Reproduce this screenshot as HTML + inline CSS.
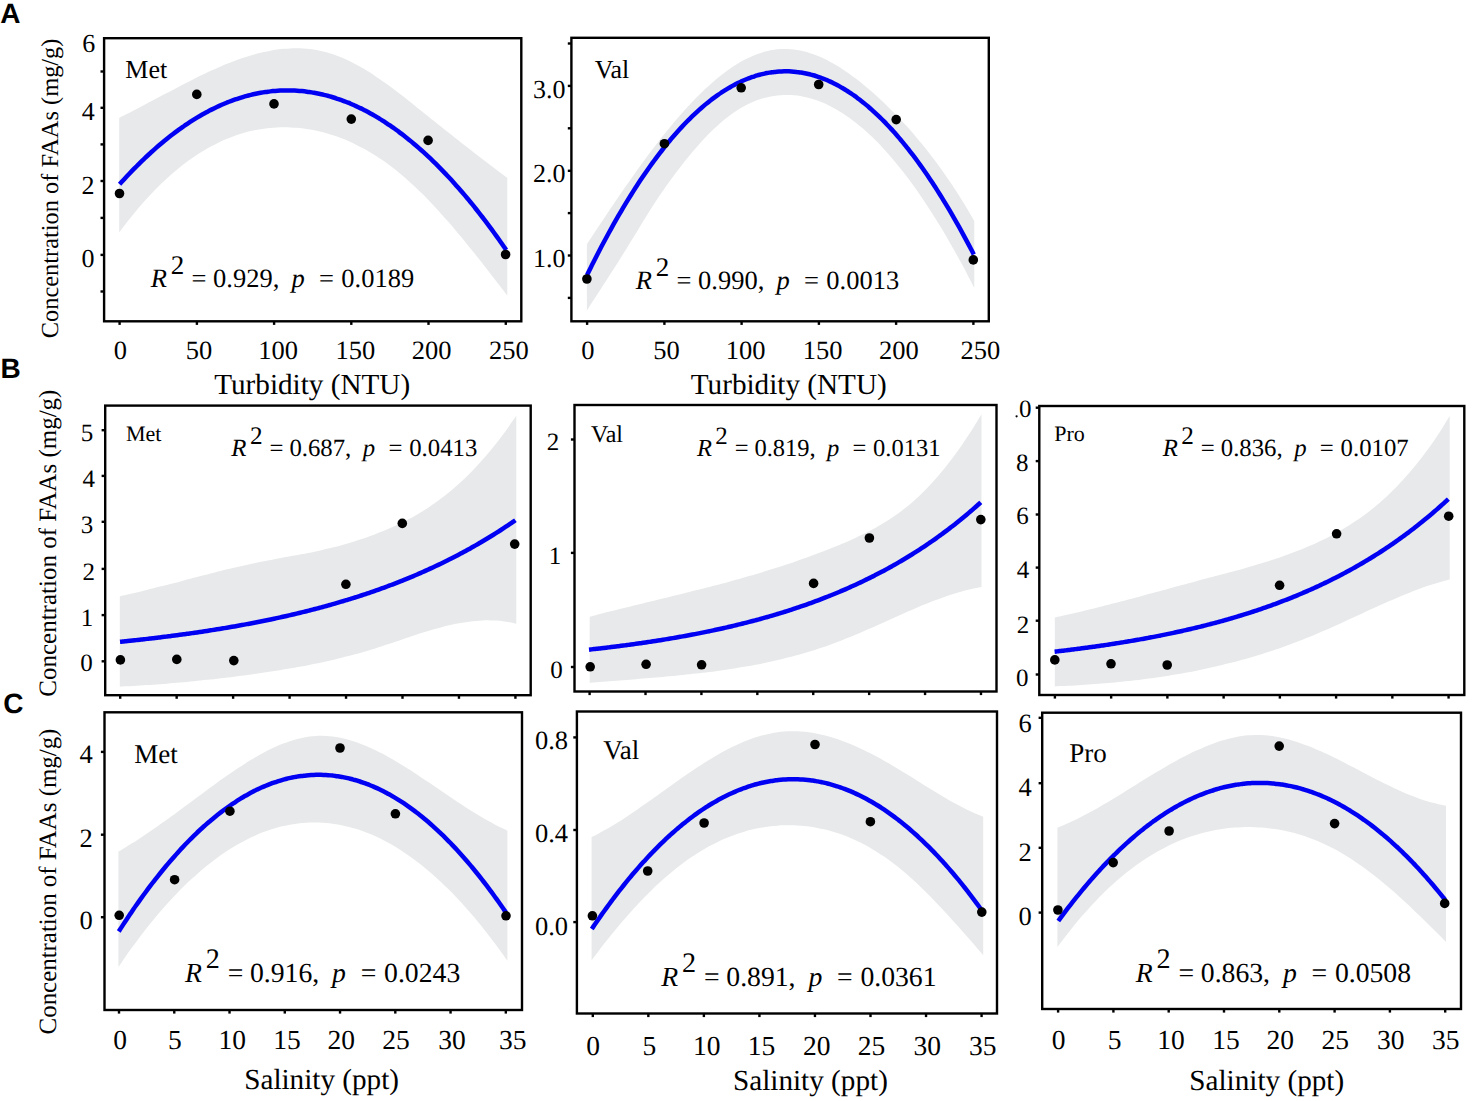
<!DOCTYPE html>
<html><head><meta charset="utf-8"><title>Figure</title>
<style>html,body{margin:0;padding:0;background:#fff;width:1473px;height:1101px;overflow:hidden}svg{display:block} text{text-rendering:geometricPrecision}</style>
</head><body>
<svg width="1473" height="1101" viewBox="0 0 1473 1101">
<rect x="0" y="0" width="1473" height="1101" fill="#fff"/>
<path d="M119.20,117.65 C120.30,117.12 123.59,115.53 125.78,114.44 C127.97,113.36 130.16,112.25 132.36,111.14 C134.55,110.03 136.74,108.90 138.93,107.77 C141.13,106.63 143.32,105.49 145.51,104.33 C147.70,103.18 149.90,102.02 152.09,100.86 C154.28,99.70 156.48,98.54 158.67,97.37 C160.86,96.20 163.05,95.03 165.25,93.87 C167.44,92.70 169.63,91.54 171.82,90.38 C174.02,89.22 176.21,88.06 178.40,86.92 C180.59,85.77 182.79,84.63 184.98,83.50 C187.17,82.37 189.36,81.25 191.56,80.14 C193.75,79.03 195.94,77.94 198.14,76.86 C200.33,75.78 202.52,74.72 204.71,73.67 C206.91,72.63 209.10,71.60 211.29,70.59 C213.48,69.59 215.68,68.60 217.87,67.65 C220.06,66.69 222.25,65.75 224.45,64.84 C226.64,63.93 228.83,63.05 231.03,62.20 C233.22,61.34 235.41,60.52 237.60,59.73 C239.80,58.94 241.99,58.18 244.18,57.46 C246.37,56.73 248.57,56.04 250.76,55.39 C252.95,54.74 255.14,54.13 257.34,53.56 C259.53,52.99 261.72,52.46 263.92,51.97 C266.11,51.48 268.30,51.04 270.49,50.64 C272.69,50.24 274.88,49.89 277.07,49.59 C279.26,49.29 281.46,49.03 283.65,48.83 C285.84,48.63 288.03,48.48 290.23,48.39 C292.42,48.29 294.61,48.25 296.81,48.27 C299.00,48.29 301.19,48.36 303.38,48.49 C305.58,48.63 307.77,48.82 309.96,49.08 C312.15,49.34 314.35,49.66 316.54,50.05 C318.73,50.43 320.92,50.88 323.12,51.41 C325.31,51.93 327.50,52.52 329.69,53.18 C331.89,53.84 334.08,54.57 336.27,55.38 C338.47,56.18 340.66,57.06 342.85,58.00 C345.04,58.94 347.24,59.95 349.43,61.01 C351.62,62.08 353.81,63.21 356.01,64.39 C358.20,65.57 360.39,66.81 362.58,68.10 C364.78,69.39 366.97,70.73 369.16,72.11 C371.36,73.49 373.55,74.92 375.74,76.39 C377.93,77.85 380.13,79.36 382.32,80.90 C384.51,82.44 386.70,84.02 388.90,85.62 C391.09,87.22 393.28,88.86 395.47,90.51 C397.67,92.16 399.86,93.85 402.05,95.54 C404.25,97.24 406.44,98.96 408.63,100.69 C410.82,102.42 413.02,104.17 415.21,105.92 C417.40,107.67 419.59,109.43 421.79,111.19 C423.98,112.95 426.17,114.72 428.36,116.48 C430.56,118.24 432.75,120.00 434.94,121.76 C437.14,123.52 439.33,125.27 441.52,127.02 C443.71,128.77 445.91,130.52 448.10,132.27 C450.29,134.01 452.48,135.75 454.68,137.48 C456.87,139.22 459.06,140.95 461.25,142.67 C463.45,144.39 465.64,146.11 467.83,147.82 C470.02,149.54 472.22,151.24 474.41,152.94 C476.60,154.64 478.80,156.33 480.99,158.02 C483.18,159.70 485.37,161.38 487.57,163.05 C489.76,164.72 491.95,166.38 494.14,168.03 C496.34,169.68 498.53,171.33 500.72,172.96 C502.91,174.60 506.20,177.02 507.30,177.84 L507.30,295.75 C506.20,294.31 502.91,289.99 500.72,287.12 C498.53,284.25 496.34,281.38 494.14,278.53 C491.95,275.69 489.76,272.85 487.57,270.02 C485.37,267.20 483.18,264.39 480.99,261.61 C478.80,258.82 476.60,256.05 474.41,253.30 C472.22,250.55 470.02,247.83 467.83,245.13 C465.64,242.43 463.45,239.75 461.25,237.11 C459.06,234.46 456.87,231.85 454.68,229.26 C452.48,226.68 450.29,224.13 448.10,221.61 C445.91,219.10 443.71,216.61 441.52,214.17 C439.33,211.73 437.14,209.33 434.94,206.97 C432.75,204.61 430.56,202.30 428.36,200.03 C426.17,197.76 423.98,195.53 421.79,193.36 C419.59,191.18 417.40,189.05 415.21,186.98 C413.02,184.91 410.82,182.89 408.63,180.92 C406.44,178.96 404.25,177.05 402.05,175.20 C399.86,173.35 397.67,171.56 395.47,169.83 C393.28,168.09 391.09,166.42 388.90,164.80 C386.70,163.17 384.51,161.61 382.32,160.10 C380.13,158.59 377.93,157.14 375.74,155.75 C373.55,154.35 371.36,153.01 369.16,151.72 C366.97,150.43 364.78,149.19 362.58,148.01 C360.39,146.83 358.20,145.71 356.01,144.63 C353.81,143.56 351.62,142.54 349.43,141.57 C347.24,140.59 345.04,139.68 342.85,138.81 C340.66,137.94 338.47,137.13 336.27,136.36 C334.08,135.60 331.89,134.88 329.69,134.22 C327.50,133.55 325.31,132.94 323.12,132.37 C320.92,131.80 318.73,131.29 316.54,130.82 C314.35,130.35 312.15,129.92 309.96,129.55 C307.77,129.18 305.58,128.85 303.38,128.57 C301.19,128.29 299.00,128.05 296.81,127.87 C294.61,127.68 292.42,127.54 290.23,127.45 C288.03,127.35 285.84,127.31 283.65,127.31 C281.46,127.32 279.26,127.37 277.07,127.47 C274.88,127.57 272.69,127.72 270.49,127.92 C268.30,128.13 266.11,128.38 263.92,128.68 C261.72,128.98 259.53,129.34 257.34,129.74 C255.14,130.15 252.95,130.61 250.76,131.12 C248.57,131.63 246.37,132.20 244.18,132.82 C241.99,133.44 239.80,134.11 237.60,134.84 C235.41,135.56 233.22,136.35 231.03,137.18 C228.83,138.02 226.64,138.91 224.45,139.87 C222.25,140.82 220.06,141.82 217.87,142.89 C215.68,143.95 213.48,145.07 211.29,146.25 C209.10,147.43 206.91,148.67 204.71,149.97 C202.52,151.27 200.33,152.62 198.14,154.04 C195.94,155.46 193.75,156.93 191.56,158.47 C189.36,160.01 187.17,161.61 184.98,163.27 C182.79,164.93 180.59,166.66 178.40,168.44 C176.21,170.23 174.02,172.08 171.82,173.99 C169.63,175.90 167.44,177.88 165.25,179.92 C163.05,181.96 160.86,184.06 158.67,186.23 C156.48,188.40 154.28,190.64 152.09,192.94 C149.90,195.24 147.70,197.61 145.51,200.05 C143.32,202.49 141.13,204.99 138.93,207.56 C136.74,210.13 134.55,212.77 132.36,215.48 C130.16,218.19 127.97,220.96 125.78,223.81 C123.59,226.66 120.30,231.11 119.20,232.57 Z" fill="#e8e9ea"/>
<path d="M119.60,184.30 C120.01,183.85 121.22,182.49 122.03,181.60 C122.84,180.70 123.65,179.82 124.46,178.94 C125.27,178.06 126.08,177.18 126.89,176.31 C127.70,175.45 128.52,174.59 129.33,173.73 C130.14,172.88 130.95,172.03 131.76,171.19 C132.57,170.35 133.38,169.51 134.19,168.68 C135.00,167.86 135.81,167.03 136.62,166.22 C137.43,165.40 138.24,164.60 139.05,163.79 C139.86,162.99 140.67,162.20 141.48,161.41 C142.29,160.62 143.10,159.84 143.91,159.06 C144.72,158.29 145.54,157.52 146.35,156.75 C147.16,155.99 147.97,155.24 148.78,154.49 C149.59,153.74 150.40,152.99 151.21,152.26 C152.02,151.52 152.83,150.79 153.64,150.07 C154.45,149.35 155.26,148.63 156.07,147.92 C156.88,147.21 157.69,146.51 158.50,145.81 C159.31,145.11 160.12,144.42 160.93,143.74 C161.75,143.06 162.56,142.38 163.37,141.71 C164.18,141.04 164.99,140.37 165.80,139.72 C166.61,139.06 167.42,138.41 168.23,137.76 C169.04,137.12 169.85,136.48 170.66,135.85 C171.47,135.22 172.28,134.60 173.09,133.98 C173.90,133.36 174.71,132.75 175.52,132.14 C176.33,131.54 177.14,130.94 177.95,130.35 C178.77,129.76 179.58,129.17 180.39,128.60 C181.20,128.02 182.01,127.44 182.82,126.88 C183.63,126.31 184.44,125.76 185.25,125.20 C186.06,124.65 186.87,124.11 187.68,123.57 C188.49,123.03 189.30,122.49 190.11,121.97 C190.92,121.44 191.73,120.92 192.54,120.41 C193.35,119.90 194.16,119.39 194.97,118.89 C195.79,118.39 196.60,117.90 197.41,117.41 C198.22,116.93 199.03,116.45 199.84,115.97 C200.65,115.50 201.46,115.03 202.27,114.57 C203.08,114.11 203.89,113.66 204.70,113.21 C205.51,112.77 206.32,112.32 207.13,111.89 C207.94,111.46 208.75,111.03 209.56,110.61 C210.37,110.19 211.18,109.77 211.99,109.37 C212.81,108.96 213.62,108.56 214.43,108.16 C215.24,107.77 216.05,107.38 216.86,107.00 C217.67,106.62 218.48,106.24 219.29,105.87 C220.10,105.51 220.91,105.15 221.72,104.79 C222.53,104.44 223.34,104.09 224.15,103.74 C224.96,103.40 225.77,103.07 226.58,102.74 C227.39,102.41 228.20,102.09 229.02,101.77 C229.83,101.46 230.64,101.15 231.45,100.84 C232.26,100.54 233.07,100.25 233.88,99.96 C234.69,99.67 235.50,99.38 236.31,99.11 C237.12,98.83 237.93,98.56 238.74,98.30 C239.55,98.04 240.36,97.78 241.17,97.53 C241.98,97.28 242.79,97.04 243.60,96.80 C244.41,96.56 245.22,96.33 246.04,96.11 C246.85,95.89 247.66,95.67 248.47,95.46 C249.28,95.25 250.09,95.04 250.90,94.85 C251.71,94.65 252.52,94.46 253.33,94.27 C254.14,94.09 254.95,93.91 255.76,93.74 C256.57,93.57 257.38,93.41 258.19,93.25 C259.00,93.09 259.81,92.94 260.62,92.79 C261.43,92.65 262.24,92.51 263.06,92.38 C263.87,92.25 264.68,92.12 265.49,92.00 C266.30,91.88 267.11,91.77 267.92,91.67 C268.73,91.56 269.54,91.46 270.35,91.37 C271.16,91.28 271.97,91.19 272.78,91.11 C273.59,91.03 274.40,90.96 275.21,90.90 C276.02,90.83 276.83,90.77 277.64,90.72 C278.45,90.67 279.26,90.62 280.08,90.58 C280.89,90.54 281.70,90.51 282.51,90.48 C283.32,90.45 284.13,90.43 284.94,90.42 C285.75,90.41 286.56,90.40 287.37,90.40 C288.18,90.40 288.99,90.41 289.80,90.42 C290.61,90.43 291.42,90.45 292.23,90.48 C293.04,90.50 293.85,90.54 294.66,90.58 C295.47,90.61 296.29,90.66 297.10,90.71 C297.91,90.76 298.72,90.82 299.53,90.89 C300.34,90.95 301.15,91.03 301.96,91.11 C302.77,91.18 303.58,91.27 304.39,91.36 C305.20,91.45 306.01,91.55 306.82,91.66 C307.63,91.76 308.44,91.87 309.25,91.99 C310.06,92.11 310.87,92.23 311.68,92.36 C312.49,92.49 313.31,92.63 314.12,92.78 C314.93,92.92 315.74,93.07 316.55,93.23 C317.36,93.39 318.17,93.55 318.98,93.72 C319.79,93.89 320.60,94.07 321.41,94.25 C322.22,94.44 323.03,94.63 323.84,94.82 C324.65,95.02 325.46,95.22 326.27,95.43 C327.08,95.64 327.89,95.86 328.70,96.08 C329.51,96.31 330.33,96.54 331.14,96.77 C331.95,97.01 332.76,97.25 333.57,97.50 C334.38,97.75 335.19,98.01 336.00,98.27 C336.81,98.53 337.62,98.80 338.43,99.08 C339.24,99.35 340.05,99.64 340.86,99.92 C341.67,100.21 342.48,100.51 343.29,100.81 C344.10,101.11 344.91,101.42 345.72,101.74 C346.54,102.05 347.35,102.37 348.16,102.70 C348.97,103.03 349.78,103.36 350.59,103.71 C351.40,104.05 352.21,104.40 353.02,104.75 C353.83,105.10 354.64,105.47 355.45,105.83 C356.26,106.20 357.07,106.58 357.88,106.96 C358.69,107.34 359.50,107.72 360.31,108.12 C361.12,108.51 361.93,108.91 362.74,109.32 C363.56,109.73 364.37,110.14 365.18,110.56 C365.99,110.98 366.80,111.41 367.61,111.84 C368.42,112.28 369.23,112.72 370.04,113.16 C370.85,113.61 371.66,114.06 372.47,114.52 C373.28,114.98 374.09,115.45 374.90,115.92 C375.71,116.39 376.52,116.87 377.33,117.36 C378.14,117.84 378.95,118.34 379.76,118.84 C380.58,119.33 381.39,119.84 382.20,120.35 C383.01,120.87 383.82,121.38 384.63,121.91 C385.44,122.43 386.25,122.97 387.06,123.51 C387.87,124.04 388.68,124.59 389.49,125.14 C390.30,125.69 391.11,126.25 391.92,126.82 C392.73,127.38 393.54,127.95 394.35,128.53 C395.16,129.11 395.97,129.69 396.78,130.28 C397.60,130.87 398.41,131.47 399.22,132.08 C400.03,132.68 400.84,133.29 401.65,133.91 C402.46,134.53 403.27,135.15 404.08,135.78 C404.89,136.41 405.70,137.05 406.51,137.69 C407.32,138.34 408.13,138.99 408.94,139.64 C409.75,140.30 410.56,140.96 411.37,141.63 C412.18,142.30 412.99,142.98 413.81,143.66 C414.62,144.35 415.43,145.04 416.24,145.73 C417.05,146.43 417.86,147.13 418.67,147.84 C419.48,148.55 420.29,149.27 421.10,149.99 C421.91,150.71 422.72,151.44 423.53,152.18 C424.34,152.91 425.15,153.65 425.96,154.40 C426.77,155.15 427.58,155.91 428.39,156.67 C429.20,157.43 430.01,158.20 430.83,158.97 C431.64,159.75 432.45,160.53 433.26,161.32 C434.07,162.11 434.88,162.90 435.69,163.70 C436.50,164.50 437.31,165.31 438.12,166.13 C438.93,166.94 439.74,167.76 440.55,168.59 C441.36,169.42 442.17,170.25 442.98,171.09 C443.79,171.93 444.60,172.78 445.41,173.63 C446.22,174.49 447.03,175.35 447.85,176.22 C448.66,177.08 449.47,177.96 450.28,178.84 C451.09,179.72 451.90,180.60 452.71,181.50 C453.52,182.39 454.33,183.29 455.14,184.20 C455.95,185.10 456.76,186.02 457.57,186.94 C458.38,187.86 459.19,188.78 460.00,189.72 C460.81,190.65 461.62,191.59 462.43,192.53 C463.24,193.48 464.05,194.43 464.87,195.39 C465.68,196.35 466.49,197.32 467.30,198.29 C468.11,199.26 468.92,200.24 469.73,201.22 C470.54,202.21 471.35,203.20 472.16,204.20 C472.97,205.20 473.78,206.20 474.59,207.21 C475.40,208.23 476.21,209.24 477.02,210.27 C477.83,211.29 478.64,212.33 479.45,213.36 C480.26,214.40 481.08,215.45 481.89,216.50 C482.70,217.55 483.51,218.61 484.32,219.67 C485.13,220.73 485.94,221.80 486.75,222.88 C487.56,223.96 488.37,225.04 489.18,226.13 C489.99,227.22 490.80,228.32 491.61,229.43 C492.42,230.53 493.23,231.64 494.04,232.76 C494.85,233.87 495.66,235.00 496.47,236.13 C497.28,237.26 498.10,238.39 498.91,239.54 C499.72,240.68 500.53,241.83 501.34,242.98 C502.15,244.14 502.96,245.30 503.77,246.47 C504.58,247.64 505.79,249.41 506.20,250.00" fill="none" stroke="#0000f2" stroke-width="4.5" stroke-linecap="butt"/>
<circle cx="119.50" cy="193.50" r="4.8" fill="#000"/>
<circle cx="196.80" cy="94.40" r="4.8" fill="#000"/>
<circle cx="274.00" cy="103.90" r="4.8" fill="#000"/>
<circle cx="351.30" cy="119.10" r="4.8" fill="#000"/>
<circle cx="428.10" cy="140.40" r="4.8" fill="#000"/>
<circle cx="505.60" cy="254.50" r="4.8" fill="#000"/>
<rect x="104.1" y="38.2" width="417.20" height="283.10" fill="none" stroke="#000" stroke-width="2.4"/>
<line x1="100.50" y1="71.50" x2="104.10" y2="71.50" stroke="#000" stroke-width="2.4"/>
<line x1="100.50" y1="107.80" x2="104.10" y2="107.80" stroke="#000" stroke-width="2.4"/>
<line x1="100.50" y1="144.40" x2="104.10" y2="144.40" stroke="#000" stroke-width="2.4"/>
<line x1="100.50" y1="181.00" x2="104.10" y2="181.00" stroke="#000" stroke-width="2.4"/>
<line x1="100.50" y1="217.90" x2="104.10" y2="217.90" stroke="#000" stroke-width="2.4"/>
<line x1="100.50" y1="254.90" x2="104.10" y2="254.90" stroke="#000" stroke-width="2.4"/>
<line x1="100.50" y1="291.50" x2="104.10" y2="291.50" stroke="#000" stroke-width="2.4"/>
<line x1="119.60" y1="321.30" x2="119.60" y2="324.90" stroke="#000" stroke-width="2.4"/>
<line x1="196.90" y1="321.30" x2="196.90" y2="324.90" stroke="#000" stroke-width="2.4"/>
<line x1="274.10" y1="321.30" x2="274.10" y2="324.90" stroke="#000" stroke-width="2.4"/>
<line x1="351.30" y1="321.30" x2="351.30" y2="324.90" stroke="#000" stroke-width="2.4"/>
<line x1="428.50" y1="321.30" x2="428.50" y2="324.90" stroke="#000" stroke-width="2.4"/>
<line x1="505.80" y1="321.30" x2="505.80" y2="324.90" stroke="#000" stroke-width="2.4"/>
<text x="82.20" y="52.38" style="font-family:&quot;Liberation Serif&quot;,serif;font-size:26px" fill="#000">6</text>
<text x="81.80" y="120.25" style="font-family:&quot;Liberation Serif&quot;,serif;font-size:26px" fill="#000">4</text>
<text x="81.50" y="193.91" style="font-family:&quot;Liberation Serif&quot;,serif;font-size:26px" fill="#000">2</text>
<text x="81.50" y="267.21" style="font-family:&quot;Liberation Serif&quot;,serif;font-size:26px" fill="#000">0</text>
<text x="113.78" y="359.30" style="font-family:&quot;Liberation Serif&quot;,serif;font-size:26.5px" fill="#000">0</text>
<text x="185.85" y="359.30" style="font-family:&quot;Liberation Serif&quot;,serif;font-size:26.5px" fill="#000">50</text>
<text x="258.23" y="359.30" style="font-family:&quot;Liberation Serif&quot;,serif;font-size:26.5px" fill="#000">100</text>
<text x="335.43" y="359.30" style="font-family:&quot;Liberation Serif&quot;,serif;font-size:26.5px" fill="#000">150</text>
<text x="411.82" y="359.30" style="font-family:&quot;Liberation Serif&quot;,serif;font-size:26.5px" fill="#000">200</text>
<text x="489.12" y="359.30" style="font-family:&quot;Liberation Serif&quot;,serif;font-size:26.5px" fill="#000">250</text>
<text x="214.20" y="393.50" style="font-family:&quot;Liberation Serif&quot;,serif;font-size:29.2px" fill="#000">Turbidity (NTU)</text>
<text x="125.30" y="78.30" style="font-family:&quot;Liberation Serif&quot;,serif;font-size:26px" fill="#000">Met</text>
<text x="150.86" y="287.30" style="font-family:&quot;Liberation Serif&quot;,serif;font-style:italic;font-size:26.5px" fill="#000">R</text>
<text x="170.70" y="274.00" style="font-family:&quot;Liberation Serif&quot;,serif;font-size:27.0px" fill="#000">2</text>
<text x="191.60" y="287.30" style="font-family:&quot;Liberation Serif&quot;,serif;font-size:26.5px" fill="#000">=</text>
<text x="213.00" y="287.30" style="font-family:&quot;Liberation Serif&quot;,serif;font-size:26.5px" fill="#000">0.929,</text>
<text x="291.56" y="287.30" style="font-family:&quot;Liberation Serif&quot;,serif;font-style:italic;font-size:26.5px" fill="#000">p</text>
<text x="319.00" y="287.30" style="font-family:&quot;Liberation Serif&quot;,serif;font-size:26.5px" fill="#000">=</text>
<text x="341.30" y="287.30" style="font-family:&quot;Liberation Serif&quot;,serif;font-size:26.5px" fill="#000">0.0189</text>
<path d="M586.90,244.17 C587.99,242.51 591.28,237.51 593.47,234.19 C595.65,230.88 597.84,227.57 600.03,224.27 C602.22,220.98 604.41,217.69 606.60,214.42 C608.79,211.15 610.98,207.90 613.16,204.67 C615.35,201.43 617.54,198.22 619.73,195.03 C621.92,191.84 624.11,188.66 626.30,185.52 C628.49,182.38 630.67,179.26 632.86,176.17 C635.05,173.08 637.24,170.02 639.43,166.99 C641.62,163.96 643.81,160.96 645.99,158.00 C648.18,155.05 650.37,152.12 652.56,149.23 C654.75,146.35 656.94,143.50 659.13,140.69 C661.32,137.89 663.50,135.12 665.69,132.41 C667.88,129.69 670.07,127.01 672.26,124.39 C674.45,121.77 676.64,119.19 678.83,116.67 C681.01,114.15 683.20,111.67 685.39,109.26 C687.58,106.84 689.77,104.48 691.96,102.18 C694.15,99.88 696.34,97.63 698.52,95.45 C700.71,93.27 702.90,91.15 705.09,89.10 C707.28,87.04 709.47,85.05 711.66,83.13 C713.84,81.21 716.03,79.36 718.22,77.58 C720.41,75.80 722.60,74.09 724.79,72.45 C726.98,70.82 729.17,69.26 731.35,67.78 C733.54,66.30 735.73,64.90 737.92,63.58 C740.11,62.26 742.30,61.02 744.49,59.86 C746.68,58.71 748.86,57.64 751.05,56.66 C753.24,55.68 755.43,54.78 757.62,53.98 C759.81,53.18 762.00,52.47 764.18,51.86 C766.37,51.24 768.56,50.72 770.75,50.30 C772.94,49.88 775.13,49.55 777.32,49.33 C779.51,49.11 781.69,48.99 783.88,48.97 C786.07,48.94 788.26,49.02 790.45,49.19 C792.64,49.36 794.83,49.63 797.02,49.98 C799.20,50.33 801.39,50.78 803.58,51.31 C805.77,51.85 807.96,52.47 810.15,53.17 C812.34,53.87 814.52,54.66 816.71,55.52 C818.90,56.39 821.09,57.33 823.28,58.35 C825.47,59.37 827.66,60.46 829.85,61.63 C832.03,62.79 834.22,64.03 836.41,65.34 C838.60,66.64 840.79,68.01 842.98,69.45 C845.17,70.88 847.36,72.38 849.54,73.94 C851.73,75.50 853.92,77.12 856.11,78.80 C858.30,80.47 860.49,82.20 862.68,83.99 C864.86,85.77 867.05,87.61 869.24,89.49 C871.43,91.37 873.62,93.31 875.81,95.28 C878.00,97.26 880.19,99.28 882.37,101.34 C884.56,103.41 886.75,105.51 888.94,107.67 C891.13,109.82 893.32,112.02 895.51,114.27 C897.70,116.51 899.88,118.81 902.07,121.16 C904.26,123.51 906.45,125.90 908.64,128.36 C910.83,130.81 913.02,133.32 915.21,135.88 C917.39,138.45 919.58,141.07 921.77,143.75 C923.96,146.43 926.15,149.17 928.34,151.98 C930.53,154.78 932.71,157.64 934.90,160.58 C937.09,163.51 939.28,166.50 941.47,169.57 C943.66,172.63 945.85,175.76 948.04,178.96 C950.22,182.16 952.41,185.44 954.60,188.78 C956.79,192.13 958.98,195.55 961.17,199.04 C963.36,202.54 965.55,206.11 967.73,209.76 C969.92,213.41 973.21,219.08 974.30,220.94 L974.30,287.82 C973.21,285.71 969.92,279.31 967.73,275.14 C965.55,270.98 963.36,266.89 961.17,262.86 C958.98,258.83 956.79,254.86 954.60,250.96 C952.41,247.06 950.22,243.23 948.04,239.46 C945.85,235.70 943.66,232.00 941.47,228.37 C939.28,224.74 937.09,221.18 934.90,217.68 C932.71,214.19 930.53,210.77 928.34,207.41 C926.15,204.05 923.96,200.77 921.77,197.55 C919.58,194.34 917.39,191.19 915.21,188.12 C913.02,185.04 910.83,182.04 908.64,179.11 C906.45,176.17 904.26,173.31 902.07,170.53 C899.88,167.74 897.70,165.02 895.51,162.38 C893.32,159.74 891.13,157.17 888.94,154.68 C886.75,152.18 884.56,149.76 882.37,147.41 C880.19,145.07 878.00,142.80 875.81,140.60 C873.62,138.41 871.43,136.29 869.24,134.25 C867.05,132.20 864.86,130.24 862.68,128.35 C860.49,126.46 858.30,124.64 856.11,122.91 C853.92,121.18 851.73,119.52 849.54,117.94 C847.36,116.36 845.17,114.86 842.98,113.45 C840.79,112.03 838.60,110.69 836.41,109.43 C834.22,108.17 832.03,106.99 829.85,105.89 C827.66,104.79 825.47,103.77 823.28,102.84 C821.09,101.90 818.90,101.05 816.71,100.28 C814.52,99.50 812.34,98.81 810.15,98.21 C807.96,97.60 805.77,97.08 803.58,96.64 C801.39,96.21 799.20,95.85 797.02,95.58 C794.83,95.32 792.64,95.13 790.45,95.03 C788.26,94.93 786.07,94.92 783.88,95.00 C781.69,95.07 779.51,95.23 777.32,95.48 C775.13,95.72 772.94,96.06 770.75,96.48 C768.56,96.91 766.37,97.42 764.18,98.03 C762.00,98.63 759.81,99.33 757.62,100.12 C755.43,100.91 753.24,101.80 751.05,102.78 C748.86,103.76 746.68,104.84 744.49,106.02 C742.30,107.19 740.11,108.47 737.92,109.84 C735.73,111.22 733.54,112.70 731.35,114.27 C729.17,115.85 726.98,117.54 724.79,119.32 C722.60,121.10 720.41,122.98 718.22,124.95 C716.03,126.91 713.84,128.98 711.66,131.12 C709.47,133.27 707.28,135.50 705.09,137.81 C702.90,140.12 700.71,142.51 698.52,144.97 C696.34,147.43 694.15,149.97 691.96,152.57 C689.77,155.17 687.58,157.84 685.39,160.57 C683.20,163.30 681.01,166.09 678.83,168.93 C676.64,171.78 674.45,174.67 672.26,177.64 C670.07,180.60 667.88,183.63 665.69,186.73 C663.50,189.83 661.32,193.00 659.13,196.25 C656.94,199.51 654.75,202.85 652.56,206.26 C650.37,209.67 648.18,213.18 645.99,216.71 C643.81,220.25 641.62,223.85 639.43,227.44 C637.24,231.03 635.05,234.66 632.86,238.24 C630.67,241.83 628.49,245.40 626.30,248.93 C624.11,252.46 621.92,255.95 619.73,259.42 C617.54,262.88 615.35,266.32 613.16,269.74 C610.98,273.16 608.79,276.56 606.60,279.96 C604.41,283.36 602.22,286.74 600.03,290.13 C597.84,293.52 595.65,296.90 593.47,300.30 C591.28,303.70 587.99,308.83 586.90,310.54 Z" fill="#e8e9ea"/>
<path d="M587.00,275.20 C587.41,274.37 588.62,271.88 589.43,270.23 C590.24,268.59 591.05,266.96 591.87,265.33 C592.68,263.71 593.49,262.09 594.30,260.49 C595.11,258.88 595.92,257.29 596.73,255.71 C597.54,254.12 598.35,252.55 599.16,250.99 C599.97,249.42 600.79,247.87 601.60,246.33 C602.41,244.78 603.22,243.25 604.03,241.73 C604.84,240.21 605.65,238.69 606.46,237.19 C607.27,235.69 608.08,234.20 608.89,232.72 C609.71,231.23 610.52,229.76 611.33,228.30 C612.14,226.84 612.95,225.39 613.76,223.95 C614.57,222.51 615.38,221.08 616.19,219.66 C617.00,218.24 617.81,216.83 618.63,215.43 C619.44,214.03 620.25,212.64 621.06,211.26 C621.87,209.88 622.68,208.51 623.49,207.15 C624.30,205.79 625.11,204.44 625.92,203.10 C626.73,201.76 627.55,200.43 628.36,199.11 C629.17,197.80 629.98,196.49 630.79,195.19 C631.60,193.89 632.41,192.60 633.22,191.33 C634.03,190.05 634.84,188.78 635.65,187.52 C636.46,186.27 637.28,185.02 638.09,183.78 C638.90,182.54 639.71,181.32 640.52,180.10 C641.33,178.89 642.14,177.68 642.95,176.48 C643.76,175.29 644.57,174.10 645.38,172.93 C646.20,171.75 647.01,170.58 647.82,169.43 C648.63,168.27 649.44,167.13 650.25,165.99 C651.06,164.86 651.87,163.73 652.68,162.62 C653.49,161.51 654.30,160.40 655.12,159.31 C655.93,158.21 656.74,157.13 657.55,156.06 C658.36,154.98 659.17,153.92 659.98,152.87 C660.79,151.81 661.60,150.77 662.41,149.74 C663.22,148.70 664.04,147.68 664.85,146.67 C665.66,145.66 666.47,144.65 667.28,143.66 C668.09,142.67 668.90,141.69 669.71,140.72 C670.52,139.74 671.33,138.78 672.14,137.83 C672.96,136.88 673.77,135.94 674.58,135.01 C675.39,134.08 676.20,133.16 677.01,132.25 C677.82,131.34 678.63,130.44 679.44,129.55 C680.25,128.66 681.06,127.78 681.88,126.91 C682.69,126.04 683.50,125.18 684.31,124.33 C685.12,123.48 685.93,122.64 686.74,121.81 C687.55,120.98 688.36,120.16 689.17,119.35 C689.98,118.55 690.80,117.75 691.61,116.96 C692.42,116.17 693.23,115.39 694.04,114.63 C694.85,113.86 695.66,113.10 696.47,112.35 C697.28,111.61 698.09,110.87 698.90,110.14 C699.72,109.42 700.53,108.70 701.34,107.99 C702.15,107.29 702.96,106.59 703.77,105.90 C704.58,105.22 705.39,104.54 706.20,103.88 C707.01,103.21 707.82,102.56 708.64,101.91 C709.45,101.27 710.26,100.63 711.07,100.01 C711.88,99.38 712.69,98.77 713.50,98.16 C714.31,97.56 715.12,96.96 715.93,96.38 C716.74,95.79 717.56,95.22 718.37,94.66 C719.18,94.09 719.99,93.54 720.80,93.00 C721.61,92.45 722.42,91.92 723.23,91.40 C724.04,90.87 724.85,90.36 725.66,89.86 C726.48,89.36 727.29,88.87 728.10,88.38 C728.91,87.90 729.72,87.43 730.53,86.97 C731.34,86.51 732.15,86.05 732.96,85.61 C733.77,85.17 734.58,84.74 735.39,84.32 C736.21,83.90 737.02,83.49 737.83,83.09 C738.64,82.69 739.45,82.30 740.26,81.92 C741.07,81.54 741.88,81.17 742.69,80.81 C743.50,80.45 744.31,80.10 745.13,79.76 C745.94,79.42 746.75,79.09 747.56,78.77 C748.37,78.45 749.18,78.15 749.99,77.85 C750.80,77.55 751.61,77.26 752.42,76.98 C753.23,76.70 754.05,76.44 754.86,76.18 C755.67,75.92 756.48,75.67 757.29,75.44 C758.10,75.20 758.91,74.97 759.72,74.76 C760.53,74.54 761.34,74.33 762.15,74.14 C762.97,73.94 763.78,73.75 764.59,73.58 C765.40,73.40 766.21,73.24 767.02,73.08 C767.83,72.92 768.64,72.78 769.45,72.64 C770.26,72.51 771.07,72.38 771.89,72.27 C772.70,72.15 773.51,72.05 774.32,71.96 C775.13,71.86 775.94,71.78 776.75,71.70 C777.56,71.63 778.37,71.56 779.18,71.51 C779.99,71.46 780.81,71.41 781.62,71.38 C782.43,71.35 783.24,71.32 784.05,71.31 C784.86,71.30 785.67,71.30 786.48,71.30 C787.29,71.31 788.10,71.33 788.91,71.36 C789.73,71.39 790.54,71.42 791.35,71.47 C792.16,71.52 792.97,71.58 793.78,71.65 C794.59,71.72 795.40,71.80 796.21,71.89 C797.02,71.97 797.83,72.07 798.65,72.18 C799.46,72.29 800.27,72.41 801.08,72.54 C801.89,72.67 802.70,72.81 803.51,72.96 C804.32,73.11 805.13,73.27 805.94,73.45 C806.75,73.62 807.57,73.80 808.38,73.99 C809.19,74.18 810.00,74.38 810.81,74.59 C811.62,74.80 812.43,75.03 813.24,75.26 C814.05,75.49 814.86,75.73 815.67,75.98 C816.49,76.24 817.30,76.50 818.11,76.77 C818.92,77.05 819.73,77.33 820.54,77.62 C821.35,77.91 822.16,78.22 822.97,78.53 C823.78,78.85 824.59,79.17 825.41,79.50 C826.22,79.84 827.03,80.18 827.84,80.54 C828.65,80.89 829.46,81.26 830.27,81.63 C831.08,82.00 831.89,82.39 832.70,82.79 C833.51,83.18 834.32,83.59 835.14,84.00 C835.95,84.42 836.76,84.84 837.57,85.28 C838.38,85.71 839.19,86.16 840.00,86.62 C840.81,87.07 841.62,87.54 842.43,88.02 C843.24,88.49 844.06,88.98 844.87,89.48 C845.68,89.98 846.49,90.48 847.30,91.00 C848.11,91.52 848.92,92.05 849.73,92.58 C850.54,93.12 851.35,93.67 852.16,94.23 C852.98,94.79 853.79,95.36 854.60,95.94 C855.41,96.51 856.22,97.10 857.03,97.70 C857.84,98.30 858.65,98.91 859.46,99.53 C860.27,100.15 861.08,100.78 861.90,101.42 C862.71,102.06 863.52,102.71 864.33,103.37 C865.14,104.03 865.95,104.70 866.76,105.38 C867.57,106.06 868.38,106.75 869.19,107.46 C870.00,108.16 870.82,108.87 871.63,109.59 C872.44,110.31 873.25,111.04 874.06,111.79 C874.87,112.53 875.68,113.28 876.49,114.04 C877.30,114.81 878.11,115.58 878.92,116.36 C879.74,117.14 880.55,117.94 881.36,118.74 C882.17,119.54 882.98,120.36 883.79,121.18 C884.60,122.00 885.41,122.84 886.22,123.68 C887.03,124.53 887.84,125.38 888.66,126.24 C889.47,127.11 890.28,127.98 891.09,128.87 C891.90,129.75 892.71,130.65 893.52,131.55 C894.33,132.46 895.14,133.37 895.95,134.30 C896.76,135.23 897.58,136.16 898.39,137.11 C899.20,138.05 900.01,139.01 900.82,139.98 C901.63,140.94 902.44,141.92 903.25,142.91 C904.06,143.89 904.87,144.89 905.68,145.90 C906.50,146.90 907.31,147.92 908.12,148.95 C908.93,149.98 909.74,151.02 910.55,152.06 C911.36,153.11 912.17,154.17 912.98,155.24 C913.79,156.31 914.60,157.39 915.42,158.47 C916.23,159.56 917.04,160.66 917.85,161.77 C918.66,162.88 919.47,164.00 920.28,165.13 C921.09,166.26 921.90,167.40 922.71,168.55 C923.52,169.70 924.34,170.86 925.15,172.03 C925.96,173.20 926.77,174.38 927.58,175.57 C928.39,176.76 929.20,177.96 930.01,179.18 C930.82,180.39 931.63,181.61 932.44,182.84 C933.25,184.07 934.07,185.31 934.88,186.57 C935.69,187.82 936.50,189.08 937.31,190.35 C938.12,191.63 938.93,192.91 939.74,194.20 C940.55,195.49 941.36,196.80 942.17,198.11 C942.99,199.42 943.80,200.75 944.61,202.08 C945.42,203.41 946.23,204.76 947.04,206.11 C947.85,207.47 948.66,208.83 949.47,210.21 C950.28,211.58 951.09,212.96 951.91,214.36 C952.72,215.75 953.53,217.16 954.34,218.57 C955.15,219.99 955.96,221.42 956.77,222.85 C957.58,224.29 958.39,225.73 959.20,227.19 C960.01,228.64 960.83,230.11 961.64,231.59 C962.45,233.06 963.26,234.55 964.07,236.05 C964.88,237.54 965.69,239.05 966.50,240.57 C967.31,242.09 968.12,243.61 968.93,245.15 C969.75,246.69 970.56,248.24 971.37,249.80 C972.18,251.35 973.39,253.72 973.80,254.50" fill="none" stroke="#0000f2" stroke-width="4.5" stroke-linecap="butt"/>
<circle cx="586.90" cy="279.00" r="4.8" fill="#000"/>
<circle cx="664.40" cy="143.70" r="4.8" fill="#000"/>
<circle cx="741.20" cy="87.80" r="4.8" fill="#000"/>
<circle cx="818.70" cy="84.50" r="4.8" fill="#000"/>
<circle cx="896.20" cy="119.60" r="4.8" fill="#000"/>
<circle cx="973.30" cy="259.90" r="4.8" fill="#000"/>
<rect x="571.4" y="37.8" width="417.40" height="283.50" fill="none" stroke="#000" stroke-width="2.4"/>
<line x1="567.80" y1="43.50" x2="571.40" y2="43.50" stroke="#000" stroke-width="2.4"/>
<line x1="567.80" y1="85.90" x2="571.40" y2="85.90" stroke="#000" stroke-width="2.4"/>
<line x1="567.80" y1="128.30" x2="571.40" y2="128.30" stroke="#000" stroke-width="2.4"/>
<line x1="567.80" y1="170.80" x2="571.40" y2="170.80" stroke="#000" stroke-width="2.4"/>
<line x1="567.80" y1="213.10" x2="571.40" y2="213.10" stroke="#000" stroke-width="2.4"/>
<line x1="567.80" y1="255.50" x2="571.40" y2="255.50" stroke="#000" stroke-width="2.4"/>
<line x1="567.80" y1="297.90" x2="571.40" y2="297.90" stroke="#000" stroke-width="2.4"/>
<line x1="587.10" y1="321.30" x2="587.10" y2="324.90" stroke="#000" stroke-width="2.4"/>
<line x1="664.40" y1="321.30" x2="664.40" y2="324.90" stroke="#000" stroke-width="2.4"/>
<line x1="741.60" y1="321.30" x2="741.60" y2="324.90" stroke="#000" stroke-width="2.4"/>
<line x1="818.90" y1="321.30" x2="818.90" y2="324.90" stroke="#000" stroke-width="2.4"/>
<line x1="896.10" y1="321.30" x2="896.10" y2="324.90" stroke="#000" stroke-width="2.4"/>
<line x1="973.40" y1="321.30" x2="973.40" y2="324.90" stroke="#000" stroke-width="2.4"/>
<text x="533.10" y="97.56" style="font-family:&quot;Liberation Serif&quot;,serif;font-size:26px" fill="#000">3.0</text>
<text x="533.10" y="182.36" style="font-family:&quot;Liberation Serif&quot;,serif;font-size:26px" fill="#000">2.0</text>
<text x="533.10" y="267.16" style="font-family:&quot;Liberation Serif&quot;,serif;font-size:26px" fill="#000">1.0</text>
<text x="581.17" y="359.30" style="font-family:&quot;Liberation Serif&quot;,serif;font-size:26.5px" fill="#000">0</text>
<text x="653.35" y="359.30" style="font-family:&quot;Liberation Serif&quot;,serif;font-size:26.5px" fill="#000">50</text>
<text x="725.73" y="359.30" style="font-family:&quot;Liberation Serif&quot;,serif;font-size:26.5px" fill="#000">100</text>
<text x="802.83" y="359.30" style="font-family:&quot;Liberation Serif&quot;,serif;font-size:26.5px" fill="#000">150</text>
<text x="879.12" y="359.30" style="font-family:&quot;Liberation Serif&quot;,serif;font-size:26.5px" fill="#000">200</text>
<text x="960.62" y="359.30" style="font-family:&quot;Liberation Serif&quot;,serif;font-size:26.5px" fill="#000">250</text>
<text x="690.80" y="393.50" style="font-family:&quot;Liberation Serif&quot;,serif;font-size:29.2px" fill="#000">Turbidity (NTU)</text>
<text x="594.70" y="78.30" style="font-family:&quot;Liberation Serif&quot;,serif;font-size:26px" fill="#000">Val</text>
<text x="635.86" y="289.40" style="font-family:&quot;Liberation Serif&quot;,serif;font-style:italic;font-size:26.5px" fill="#000">R</text>
<text x="655.70" y="276.10" style="font-family:&quot;Liberation Serif&quot;,serif;font-size:27.0px" fill="#000">2</text>
<text x="676.60" y="289.40" style="font-family:&quot;Liberation Serif&quot;,serif;font-size:26.5px" fill="#000">=</text>
<text x="698.00" y="289.40" style="font-family:&quot;Liberation Serif&quot;,serif;font-size:26.5px" fill="#000">0.990,</text>
<text x="776.56" y="289.40" style="font-family:&quot;Liberation Serif&quot;,serif;font-style:italic;font-size:26.5px" fill="#000">p</text>
<text x="804.00" y="289.40" style="font-family:&quot;Liberation Serif&quot;,serif;font-size:26.5px" fill="#000">=</text>
<text x="826.30" y="289.40" style="font-family:&quot;Liberation Serif&quot;,serif;font-size:26.5px" fill="#000">0.0013</text>
<path d="M119.80,596.39 C120.92,596.14 124.28,595.38 126.52,594.87 C128.76,594.35 131.00,593.82 133.24,593.29 C135.48,592.76 137.72,592.22 139.96,591.67 C142.20,591.13 144.44,590.57 146.68,590.02 C148.92,589.46 151.16,588.90 153.40,588.33 C155.64,587.76 157.88,587.19 160.12,586.62 C162.36,586.04 164.60,585.46 166.84,584.88 C169.08,584.30 171.32,583.72 173.56,583.14 C175.80,582.55 178.04,581.97 180.28,581.38 C182.52,580.80 184.76,580.21 187.00,579.62 C189.24,579.04 191.48,578.45 193.72,577.87 C195.96,577.29 198.20,576.70 200.44,576.12 C202.68,575.54 204.92,574.97 207.16,574.39 C209.40,573.82 211.64,573.25 213.88,572.68 C216.12,572.12 218.36,571.56 220.61,571.00 C222.85,570.45 225.09,569.89 227.33,569.35 C229.57,568.81 231.81,568.27 234.05,567.74 C236.29,567.21 238.53,566.68 240.77,566.17 C243.01,565.66 245.25,565.15 247.49,564.65 C249.73,564.15 251.97,563.67 254.21,563.19 C256.45,562.71 258.69,562.24 260.93,561.79 C263.17,561.33 265.41,560.89 267.65,560.45 C269.89,560.02 272.13,559.60 274.37,559.18 C276.61,558.76 278.85,558.36 281.09,557.95 C283.33,557.54 285.57,557.14 287.81,556.74 C290.05,556.34 292.29,555.93 294.53,555.52 C296.77,555.11 299.01,554.70 301.25,554.28 C303.49,553.86 305.73,553.43 307.97,552.99 C310.21,552.55 312.45,552.10 314.69,551.63 C316.93,551.16 319.17,550.68 321.41,550.18 C323.65,549.67 325.89,549.15 328.13,548.61 C330.37,548.07 332.61,547.51 334.85,546.93 C337.09,546.35 339.33,545.75 341.57,545.13 C343.81,544.51 346.05,543.87 348.29,543.21 C350.53,542.54 352.77,541.86 355.01,541.15 C357.25,540.44 359.49,539.72 361.73,538.96 C363.97,538.21 366.21,537.44 368.45,536.64 C370.69,535.84 372.93,535.02 375.17,534.17 C377.41,533.33 379.65,532.46 381.89,531.56 C384.13,530.65 386.37,529.72 388.61,528.76 C390.85,527.80 393.09,526.80 395.33,525.77 C397.57,524.74 399.81,523.67 402.05,522.57 C404.29,521.46 406.53,520.31 408.77,519.12 C411.01,517.93 413.25,516.70 415.49,515.42 C417.74,514.14 419.98,512.82 422.22,511.44 C424.46,510.06 426.70,508.64 428.94,507.16 C431.18,505.68 433.42,504.15 435.66,502.56 C437.90,500.96 440.14,499.32 442.38,497.61 C444.62,495.90 446.86,494.14 449.10,492.30 C451.34,490.47 453.58,488.58 455.82,486.61 C458.06,484.65 460.30,482.62 462.54,480.52 C464.78,478.41 467.02,476.24 469.26,473.99 C471.50,471.74 473.74,469.42 475.98,467.02 C478.22,464.62 480.46,462.15 482.70,459.59 C484.94,457.04 487.18,454.41 489.42,451.71 C491.66,449.01 493.90,446.23 496.14,443.38 C498.38,440.54 500.62,437.62 502.86,434.63 C505.10,431.64 507.34,428.58 509.58,425.45 C511.82,422.32 515.18,417.46 516.30,415.86 L516.30,623.67 C515.18,623.43 511.82,622.65 509.58,622.24 C507.34,621.83 505.10,621.50 502.86,621.23 C500.62,620.96 498.38,620.76 496.14,620.62 C493.90,620.48 491.66,620.40 489.42,620.38 C487.18,620.36 484.94,620.40 482.70,620.49 C480.46,620.58 478.22,620.72 475.98,620.92 C473.74,621.11 471.50,621.35 469.26,621.64 C467.02,621.92 464.78,622.26 462.54,622.63 C460.30,623.00 458.06,623.42 455.82,623.86 C453.58,624.31 451.34,624.80 449.10,625.32 C446.86,625.83 444.62,626.39 442.38,626.96 C440.14,627.54 437.90,628.15 435.66,628.78 C433.42,629.40 431.18,630.06 428.94,630.73 C426.70,631.40 424.46,632.10 422.22,632.80 C419.98,633.51 417.74,634.23 415.49,634.96 C413.25,635.69 411.01,636.44 408.77,637.19 C406.53,637.93 404.29,638.69 402.05,639.45 C399.81,640.21 397.57,640.97 395.33,641.73 C393.09,642.49 390.85,643.25 388.61,643.99 C386.37,644.74 384.13,645.49 381.89,646.22 C379.65,646.95 377.41,647.68 375.17,648.39 C372.93,649.09 370.69,649.79 368.45,650.46 C366.21,651.14 363.97,651.80 361.73,652.44 C359.49,653.09 357.25,653.71 355.01,654.33 C352.77,654.94 350.53,655.54 348.29,656.12 C346.05,656.70 343.81,657.27 341.57,657.82 C339.33,658.38 337.09,658.92 334.85,659.45 C332.61,659.97 330.37,660.49 328.13,660.99 C325.89,661.49 323.65,661.98 321.41,662.46 C319.17,662.94 316.93,663.41 314.69,663.86 C312.45,664.32 310.21,664.76 307.97,665.20 C305.73,665.63 303.49,666.06 301.25,666.47 C299.01,666.89 296.77,667.29 294.53,667.69 C292.29,668.09 290.05,668.48 287.81,668.86 C285.57,669.24 283.33,669.61 281.09,669.97 C278.85,670.34 276.61,670.70 274.37,671.05 C272.13,671.40 269.89,671.74 267.65,672.08 C265.41,672.42 263.17,672.75 260.93,673.08 C258.69,673.41 256.45,673.73 254.21,674.04 C251.97,674.36 249.73,674.67 247.49,674.97 C245.25,675.28 243.01,675.58 240.77,675.87 C238.53,676.16 236.29,676.45 234.05,676.73 C231.81,677.02 229.57,677.29 227.33,677.56 C225.09,677.84 222.85,678.10 220.61,678.36 C218.36,678.63 216.12,678.88 213.88,679.13 C211.64,679.38 209.40,679.63 207.16,679.87 C204.92,680.11 202.68,680.34 200.44,680.57 C198.20,680.80 195.96,681.02 193.72,681.24 C191.48,681.46 189.24,681.68 187.00,681.89 C184.76,682.10 182.52,682.30 180.28,682.50 C178.04,682.70 175.80,682.89 173.56,683.08 C171.32,683.27 169.08,683.46 166.84,683.63 C164.60,683.81 162.36,683.99 160.12,684.16 C157.88,684.33 155.64,684.49 153.40,684.65 C151.16,684.81 148.92,684.97 146.68,685.12 C144.44,685.27 142.20,685.41 139.96,685.55 C137.72,685.70 135.48,685.83 133.24,685.96 C131.00,686.10 128.76,686.22 126.52,686.35 C124.28,686.47 120.92,686.64 119.80,686.70 Z" fill="#e8e9ea"/>
<path d="M120.00,641.82 C120.41,641.78 121.66,641.65 122.49,641.57 C123.32,641.48 124.14,641.40 124.97,641.31 C125.80,641.23 126.63,641.14 127.46,641.06 C128.29,640.97 129.12,640.88 129.95,640.79 C130.78,640.71 131.61,640.62 132.43,640.53 C133.26,640.44 134.09,640.35 134.92,640.26 C135.75,640.17 136.58,640.08 137.41,639.99 C138.24,639.90 139.07,639.81 139.89,639.72 C140.72,639.63 141.55,639.53 142.38,639.44 C143.21,639.35 144.04,639.25 144.87,639.16 C145.70,639.07 146.53,638.97 147.35,638.88 C148.18,638.78 149.01,638.69 149.84,638.59 C150.67,638.49 151.50,638.40 152.33,638.30 C153.16,638.20 153.99,638.10 154.82,638.00 C155.64,637.90 156.47,637.81 157.30,637.71 C158.13,637.61 158.96,637.50 159.79,637.40 C160.62,637.30 161.45,637.20 162.28,637.10 C163.10,637.00 163.93,636.89 164.76,636.79 C165.59,636.69 166.42,636.58 167.25,636.48 C168.08,636.37 168.91,636.27 169.74,636.16 C170.56,636.05 171.39,635.95 172.22,635.84 C173.05,635.73 173.88,635.62 174.71,635.51 C175.54,635.40 176.37,635.29 177.20,635.18 C178.03,635.07 178.85,634.96 179.68,634.85 C180.51,634.74 181.34,634.63 182.17,634.52 C183.00,634.40 183.83,634.29 184.66,634.17 C185.49,634.06 186.31,633.94 187.14,633.83 C187.97,633.71 188.80,633.60 189.63,633.48 C190.46,633.36 191.29,633.24 192.12,633.13 C192.95,633.01 193.77,632.89 194.60,632.77 C195.43,632.65 196.26,632.53 197.09,632.41 C197.92,632.28 198.75,632.16 199.58,632.04 C200.41,631.92 201.24,631.79 202.06,631.67 C202.89,631.54 203.72,631.42 204.55,631.29 C205.38,631.17 206.21,631.04 207.04,630.91 C207.87,630.78 208.70,630.66 209.52,630.53 C210.35,630.40 211.18,630.27 212.01,630.14 C212.84,630.01 213.67,629.88 214.50,629.74 C215.33,629.61 216.16,629.48 216.98,629.34 C217.81,629.21 218.64,629.08 219.47,628.94 C220.30,628.80 221.13,628.67 221.96,628.53 C222.79,628.39 223.62,628.26 224.45,628.12 C225.27,627.98 226.10,627.84 226.93,627.70 C227.76,627.56 228.59,627.42 229.42,627.27 C230.25,627.13 231.08,626.99 231.91,626.84 C232.73,626.70 233.56,626.55 234.39,626.41 C235.22,626.26 236.05,626.12 236.88,625.97 C237.71,625.82 238.54,625.67 239.37,625.52 C240.19,625.37 241.02,625.22 241.85,625.07 C242.68,624.92 243.51,624.77 244.34,624.62 C245.17,624.46 246.00,624.31 246.83,624.15 C247.66,624.00 248.48,623.84 249.31,623.69 C250.14,623.53 250.97,623.37 251.80,623.21 C252.63,623.05 253.46,622.89 254.29,622.73 C255.12,622.57 255.94,622.41 256.77,622.25 C257.60,622.09 258.43,621.92 259.26,621.76 C260.09,621.59 260.92,621.43 261.75,621.26 C262.58,621.09 263.41,620.93 264.23,620.76 C265.06,620.59 265.89,620.42 266.72,620.25 C267.55,620.08 268.38,619.91 269.21,619.73 C270.04,619.56 270.87,619.39 271.69,619.21 C272.52,619.04 273.35,618.86 274.18,618.68 C275.01,618.51 275.84,618.33 276.67,618.15 C277.50,617.97 278.33,617.79 279.15,617.61 C279.98,617.43 280.81,617.24 281.64,617.06 C282.47,616.88 283.30,616.69 284.13,616.51 C284.96,616.32 285.79,616.13 286.62,615.94 C287.44,615.76 288.27,615.57 289.10,615.38 C289.93,615.19 290.76,614.99 291.59,614.80 C292.42,614.61 293.25,614.41 294.08,614.22 C294.90,614.02 295.73,613.83 296.56,613.63 C297.39,613.43 298.22,613.23 299.05,613.03 C299.88,612.83 300.71,612.63 301.54,612.43 C302.36,612.23 303.19,612.02 304.02,611.82 C304.85,611.61 305.68,611.41 306.51,611.20 C307.34,610.99 308.17,610.78 309.00,610.57 C309.83,610.36 310.65,610.15 311.48,609.94 C312.31,609.73 313.14,609.51 313.97,609.30 C314.80,609.08 315.63,608.87 316.46,608.65 C317.29,608.43 318.11,608.21 318.94,607.99 C319.77,607.77 320.60,607.55 321.43,607.33 C322.26,607.10 323.09,606.88 323.92,606.65 C324.75,606.43 325.57,606.20 326.40,605.97 C327.23,605.74 328.06,605.51 328.89,605.28 C329.72,605.05 330.55,604.82 331.38,604.58 C332.21,604.35 333.04,604.11 333.86,603.88 C334.69,603.64 335.52,603.40 336.35,603.16 C337.18,602.92 338.01,602.68 338.84,602.43 C339.67,602.19 340.50,601.95 341.32,601.70 C342.15,601.46 342.98,601.21 343.81,600.96 C344.64,600.71 345.47,600.46 346.30,600.21 C347.13,599.96 347.96,599.70 348.78,599.45 C349.61,599.19 350.44,598.94 351.27,598.68 C352.10,598.42 352.93,598.16 353.76,597.90 C354.59,597.64 355.42,597.37 356.25,597.11 C357.07,596.84 357.90,596.58 358.73,596.31 C359.56,596.04 360.39,595.77 361.22,595.50 C362.05,595.23 362.88,594.96 363.71,594.68 C364.53,594.41 365.36,594.13 366.19,593.86 C367.02,593.58 367.85,593.30 368.68,593.02 C369.51,592.74 370.34,592.45 371.17,592.17 C371.99,591.88 372.82,591.60 373.65,591.31 C374.48,591.02 375.31,590.73 376.14,590.44 C376.97,590.15 377.80,589.86 378.63,589.56 C379.46,589.26 380.28,588.97 381.11,588.67 C381.94,588.37 382.77,588.07 383.60,587.77 C384.43,587.46 385.26,587.16 386.09,586.85 C386.92,586.55 387.74,586.24 388.57,585.93 C389.40,585.62 390.23,585.31 391.06,585.00 C391.89,584.68 392.72,584.37 393.55,584.05 C394.38,583.73 395.21,583.41 396.03,583.09 C396.86,582.77 397.69,582.45 398.52,582.12 C399.35,581.79 400.18,581.47 401.01,581.14 C401.84,580.81 402.67,580.48 403.49,580.14 C404.32,579.81 405.15,579.48 405.98,579.14 C406.81,578.80 407.64,578.46 408.47,578.12 C409.30,577.78 410.13,577.43 410.95,577.09 C411.78,576.74 412.61,576.40 413.44,576.05 C414.27,575.70 415.10,575.34 415.93,574.99 C416.76,574.63 417.59,574.28 418.42,573.92 C419.24,573.56 420.07,573.20 420.90,572.84 C421.73,572.47 422.56,572.11 423.39,571.74 C424.22,571.37 425.05,571.01 425.88,570.63 C426.70,570.26 427.53,569.89 428.36,569.51 C429.19,569.13 430.02,568.76 430.85,568.37 C431.68,567.99 432.51,567.61 433.34,567.22 C434.16,566.84 434.99,566.45 435.82,566.06 C436.65,565.67 437.48,565.28 438.31,564.88 C439.14,564.49 439.97,564.09 440.80,563.69 C441.63,563.29 442.45,562.89 443.28,562.48 C444.11,562.08 444.94,561.67 445.77,561.26 C446.60,560.85 447.43,560.44 448.26,560.02 C449.09,559.61 449.91,559.19 450.74,558.77 C451.57,558.35 452.40,557.93 453.23,557.50 C454.06,557.08 454.89,556.65 455.72,556.22 C456.55,555.79 457.37,555.36 458.20,554.92 C459.03,554.48 459.86,554.05 460.69,553.61 C461.52,553.16 462.35,552.72 463.18,552.27 C464.01,551.83 464.84,551.38 465.66,550.93 C466.49,550.48 467.32,550.02 468.15,549.56 C468.98,549.11 469.81,548.65 470.64,548.18 C471.47,547.72 472.30,547.26 473.12,546.79 C473.95,546.32 474.78,545.85 475.61,545.37 C476.44,544.90 477.27,544.42 478.10,543.94 C478.93,543.46 479.76,542.98 480.58,542.49 C481.41,542.01 482.24,541.52 483.07,541.03 C483.90,540.53 484.73,540.04 485.56,539.54 C486.39,539.04 487.22,538.54 488.05,538.04 C488.87,537.53 489.70,537.03 490.53,536.52 C491.36,536.01 492.19,535.49 493.02,534.98 C493.85,534.46 494.68,533.94 495.51,533.42 C496.33,532.90 497.16,532.37 497.99,531.84 C498.82,531.31 499.65,530.78 500.48,530.24 C501.31,529.71 502.14,529.17 502.97,528.63 C503.79,528.08 504.62,527.54 505.45,526.99 C506.28,526.44 507.11,525.89 507.94,525.33 C508.77,524.78 509.60,524.22 510.43,523.66 C511.26,523.09 512.08,522.53 512.91,521.96 C513.74,521.39 514.99,520.53 515.40,520.24" fill="none" stroke="#0000f2" stroke-width="4.5" stroke-linecap="butt"/>
<circle cx="120.40" cy="659.90" r="4.8" fill="#000"/>
<circle cx="176.80" cy="659.40" r="4.8" fill="#000"/>
<circle cx="233.80" cy="660.60" r="4.8" fill="#000"/>
<circle cx="345.90" cy="584.30" r="4.8" fill="#000"/>
<circle cx="402.30" cy="523.40" r="4.8" fill="#000"/>
<circle cx="514.70" cy="544.10" r="4.8" fill="#000"/>
<rect x="105.2" y="405.6" width="425.50" height="289.60" fill="none" stroke="#000" stroke-width="2.4"/>
<line x1="101.60" y1="430.20" x2="105.20" y2="430.20" stroke="#000" stroke-width="2.4"/>
<line x1="101.60" y1="475.90" x2="105.20" y2="475.90" stroke="#000" stroke-width="2.4"/>
<line x1="101.60" y1="521.80" x2="105.20" y2="521.80" stroke="#000" stroke-width="2.4"/>
<line x1="101.60" y1="568.90" x2="105.20" y2="568.90" stroke="#000" stroke-width="2.4"/>
<line x1="101.60" y1="615.10" x2="105.20" y2="615.10" stroke="#000" stroke-width="2.4"/>
<line x1="101.60" y1="661.30" x2="105.20" y2="661.30" stroke="#000" stroke-width="2.4"/>
<line x1="120.20" y1="695.20" x2="120.20" y2="698.80" stroke="#000" stroke-width="2.4"/>
<line x1="176.66" y1="695.20" x2="176.66" y2="698.80" stroke="#000" stroke-width="2.4"/>
<line x1="233.12" y1="695.20" x2="233.12" y2="698.80" stroke="#000" stroke-width="2.4"/>
<line x1="289.58" y1="695.20" x2="289.58" y2="698.80" stroke="#000" stroke-width="2.4"/>
<line x1="346.04" y1="695.20" x2="346.04" y2="698.80" stroke="#000" stroke-width="2.4"/>
<line x1="402.50" y1="695.20" x2="402.50" y2="698.80" stroke="#000" stroke-width="2.4"/>
<line x1="458.96" y1="695.20" x2="458.96" y2="698.80" stroke="#000" stroke-width="2.4"/>
<line x1="515.42" y1="695.20" x2="515.42" y2="698.80" stroke="#000" stroke-width="2.4"/>
<text x="80.70" y="441.06" style="font-family:&quot;Liberation Serif&quot;,serif;font-size:25px" fill="#000">5</text>
<text x="82.40" y="487.33" style="font-family:&quot;Liberation Serif&quot;,serif;font-size:25px" fill="#000">4</text>
<text x="80.70" y="533.45" style="font-family:&quot;Liberation Serif&quot;,serif;font-size:25px" fill="#000">3</text>
<text x="82.40" y="579.88" style="font-family:&quot;Liberation Serif&quot;,serif;font-size:25px" fill="#000">2</text>
<text x="80.70" y="625.65" style="font-family:&quot;Liberation Serif&quot;,serif;font-size:25px" fill="#000">1</text>
<text x="80.20" y="671.29" style="font-family:&quot;Liberation Serif&quot;,serif;font-size:25px" fill="#000">0</text>
<text x="126.00" y="441.00" style="font-family:&quot;Liberation Serif&quot;,serif;font-size:22px" fill="#000">Met</text>
<text x="231.35" y="456.40" style="font-family:&quot;Liberation Serif&quot;,serif;font-style:italic;font-size:24.751px" fill="#000">R</text>
<text x="249.88" y="443.98" style="font-family:&quot;Liberation Serif&quot;,serif;font-size:25.218px" fill="#000">2</text>
<text x="269.40" y="456.40" style="font-family:&quot;Liberation Serif&quot;,serif;font-size:24.751px" fill="#000">=</text>
<text x="289.39" y="456.40" style="font-family:&quot;Liberation Serif&quot;,serif;font-size:24.751px" fill="#000">0.687,</text>
<text x="362.77" y="456.40" style="font-family:&quot;Liberation Serif&quot;,serif;font-style:italic;font-size:24.751px" fill="#000">p</text>
<text x="388.39" y="456.40" style="font-family:&quot;Liberation Serif&quot;,serif;font-size:24.751px" fill="#000">=</text>
<text x="409.22" y="456.40" style="font-family:&quot;Liberation Serif&quot;,serif;font-size:24.751px" fill="#000">0.0413</text>
<path d="M589.70,616.71 C590.81,616.42 594.13,615.55 596.34,614.98 C598.55,614.41 600.77,613.84 602.98,613.28 C605.19,612.72 607.41,612.16 609.62,611.60 C611.84,611.04 614.05,610.49 616.26,609.93 C618.48,609.38 620.69,608.83 622.90,608.29 C625.12,607.74 627.33,607.19 629.54,606.65 C631.76,606.11 633.97,605.57 636.18,605.02 C638.40,604.48 640.61,603.94 642.83,603.41 C645.04,602.87 647.25,602.33 649.47,601.79 C651.68,601.25 653.89,600.72 656.11,600.18 C658.32,599.64 660.53,599.10 662.75,598.56 C664.96,598.02 667.17,597.48 669.39,596.94 C671.60,596.40 673.82,595.86 676.03,595.31 C678.24,594.77 680.46,594.22 682.67,593.67 C684.88,593.13 687.10,592.58 689.31,592.02 C691.52,591.47 693.74,590.91 695.95,590.35 C698.16,589.79 700.38,589.23 702.59,588.67 C704.81,588.10 707.02,587.53 709.23,586.96 C711.45,586.38 713.66,585.81 715.87,585.22 C718.09,584.64 720.30,584.06 722.51,583.46 C724.73,582.87 726.94,582.27 729.15,581.67 C731.37,581.07 733.58,580.46 735.79,579.85 C738.01,579.23 740.22,578.61 742.44,577.98 C744.65,577.36 746.86,576.72 749.08,576.08 C751.29,575.44 753.50,574.79 755.72,574.14 C757.93,573.48 760.14,572.82 762.36,572.15 C764.57,571.48 766.78,570.80 769.00,570.12 C771.21,569.43 773.43,568.73 775.64,568.03 C777.85,567.32 780.07,566.61 782.28,565.89 C784.49,565.17 786.71,564.43 788.92,563.69 C791.13,562.95 793.35,562.20 795.56,561.44 C797.77,560.67 799.99,559.90 802.20,559.12 C804.42,558.34 806.63,557.54 808.84,556.74 C811.06,555.93 813.27,555.11 815.48,554.28 C817.70,553.46 819.91,552.62 822.12,551.76 C824.34,550.91 826.55,550.05 828.76,549.17 C830.98,548.29 833.19,547.40 835.41,546.50 C837.62,545.59 839.83,544.68 842.05,543.74 C844.26,542.81 846.47,541.87 848.69,540.90 C850.90,539.93 853.11,538.95 855.33,537.94 C857.54,536.92 859.75,535.89 861.97,534.81 C864.18,533.74 866.39,532.64 868.61,531.49 C870.82,530.34 873.04,529.17 875.25,527.94 C877.46,526.71 879.68,525.44 881.89,524.11 C884.10,522.78 886.32,521.41 888.53,519.98 C890.74,518.54 892.96,517.06 895.17,515.50 C897.38,513.95 899.60,512.34 901.81,510.65 C904.03,508.96 906.24,507.21 908.45,505.38 C910.67,503.54 912.88,501.64 915.09,499.65 C917.31,497.66 919.52,495.59 921.73,493.44 C923.95,491.28 926.16,489.04 928.37,486.71 C930.59,484.39 932.80,481.98 935.02,479.48 C937.23,476.99 939.44,474.40 941.66,471.74 C943.87,469.07 946.08,466.31 948.30,463.47 C950.51,460.63 952.72,457.70 954.94,454.69 C957.15,451.67 959.36,448.57 961.58,445.38 C963.79,442.19 966.01,438.91 968.22,435.55 C970.43,432.18 972.65,428.73 974.86,425.19 C977.07,421.64 980.39,416.11 981.50,414.29 L981.50,587.04 C980.39,587.25 977.07,587.84 974.86,588.30 C972.65,588.76 970.43,589.27 968.22,589.80 C966.01,590.34 963.79,590.92 961.58,591.53 C959.36,592.14 957.15,592.79 954.94,593.47 C952.72,594.14 950.51,594.86 948.30,595.59 C946.08,596.33 943.87,597.10 941.66,597.89 C939.44,598.68 937.23,599.49 935.02,600.33 C932.80,601.17 930.59,602.03 928.37,602.91 C926.16,603.79 923.95,604.69 921.73,605.61 C919.52,606.52 917.31,607.46 915.09,608.40 C912.88,609.34 910.67,610.30 908.45,611.27 C906.24,612.24 904.03,613.22 901.81,614.20 C899.60,615.19 897.38,616.18 895.17,617.18 C892.96,618.17 890.74,619.17 888.53,620.17 C886.32,621.17 884.10,622.18 881.89,623.17 C879.68,624.17 877.46,625.17 875.25,626.16 C873.04,627.15 870.82,628.14 868.61,629.12 C866.39,630.10 864.18,631.07 861.97,632.03 C859.75,632.99 857.54,633.94 855.33,634.87 C853.11,635.80 850.90,636.72 848.69,637.62 C846.47,638.52 844.26,639.41 842.05,640.27 C839.83,641.13 837.62,641.97 835.41,642.80 C833.19,643.62 830.98,644.42 828.76,645.20 C826.55,645.98 824.34,646.75 822.12,647.49 C819.91,648.23 817.70,648.96 815.48,649.66 C813.27,650.37 811.06,651.05 808.84,651.72 C806.63,652.39 804.42,653.04 802.20,653.68 C799.99,654.31 797.77,654.93 795.56,655.53 C793.35,656.13 791.13,656.71 788.92,657.28 C786.71,657.85 784.49,658.40 782.28,658.94 C780.07,659.48 777.85,660.00 775.64,660.51 C773.43,661.01 771.21,661.51 769.00,661.99 C766.78,662.47 764.57,662.93 762.36,663.38 C760.14,663.83 757.93,664.27 755.72,664.70 C753.50,665.12 751.29,665.54 749.08,665.94 C746.86,666.34 744.65,666.73 742.44,667.10 C740.22,667.48 738.01,667.85 735.79,668.20 C733.58,668.56 731.37,668.90 729.15,669.24 C726.94,669.57 724.73,669.90 722.51,670.21 C720.30,670.53 718.09,670.83 715.87,671.13 C713.66,671.43 711.45,671.72 709.23,672.00 C707.02,672.28 704.81,672.55 702.59,672.81 C700.38,673.08 698.16,673.34 695.95,673.59 C693.74,673.84 691.52,674.08 689.31,674.32 C687.10,674.55 684.88,674.78 682.67,675.01 C680.46,675.23 678.24,675.45 676.03,675.67 C673.82,675.88 671.60,676.09 669.39,676.30 C667.17,676.50 664.96,676.70 662.75,676.90 C660.53,677.10 658.32,677.29 656.11,677.48 C653.89,677.68 651.68,677.86 649.47,678.05 C647.25,678.23 645.04,678.42 642.83,678.60 C640.61,678.78 638.40,678.96 636.18,679.14 C633.97,679.32 631.76,679.49 629.54,679.67 C627.33,679.85 625.12,680.02 622.90,680.20 C620.69,680.38 618.48,680.56 616.26,680.73 C614.05,680.91 611.84,681.09 609.62,681.27 C607.41,681.45 605.19,681.63 602.98,681.82 C600.77,682.00 598.55,682.19 596.34,682.37 C594.13,682.56 590.81,682.85 589.70,682.95 Z" fill="#e8e9ea"/>
<path d="M589.00,649.65 C589.41,649.60 590.64,649.47 591.46,649.38 C592.29,649.29 593.11,649.19 593.93,649.10 C594.75,649.01 595.57,648.92 596.39,648.83 C597.21,648.73 598.04,648.64 598.86,648.55 C599.68,648.45 600.50,648.36 601.32,648.26 C602.14,648.17 602.96,648.07 603.78,647.97 C604.61,647.88 605.43,647.78 606.25,647.68 C607.07,647.58 607.89,647.48 608.71,647.38 C609.53,647.28 610.36,647.18 611.18,647.08 C612.00,646.98 612.82,646.88 613.64,646.78 C614.46,646.68 615.28,646.57 616.11,646.47 C616.93,646.37 617.75,646.26 618.57,646.16 C619.39,646.05 620.21,645.95 621.03,645.84 C621.86,645.74 622.68,645.63 623.50,645.52 C624.32,645.41 625.14,645.31 625.96,645.20 C626.78,645.09 627.61,644.98 628.43,644.87 C629.25,644.76 630.07,644.64 630.89,644.53 C631.71,644.42 632.53,644.31 633.35,644.19 C634.18,644.08 635.00,643.97 635.82,643.85 C636.64,643.74 637.46,643.62 638.28,643.50 C639.10,643.39 639.93,643.27 640.75,643.15 C641.57,643.03 642.39,642.91 643.21,642.79 C644.03,642.67 644.85,642.55 645.68,642.43 C646.50,642.31 647.32,642.19 648.14,642.07 C648.96,641.94 649.78,641.82 650.60,641.69 C651.43,641.57 652.25,641.44 653.07,641.32 C653.89,641.19 654.71,641.06 655.53,640.94 C656.35,640.81 657.17,640.68 658.00,640.55 C658.82,640.42 659.64,640.29 660.46,640.16 C661.28,640.03 662.10,639.89 662.92,639.76 C663.75,639.63 664.57,639.49 665.39,639.36 C666.21,639.22 667.03,639.09 667.85,638.95 C668.67,638.81 669.50,638.68 670.32,638.54 C671.14,638.40 671.96,638.26 672.78,638.12 C673.60,637.98 674.42,637.84 675.25,637.69 C676.07,637.55 676.89,637.41 677.71,637.26 C678.53,637.12 679.35,636.97 680.17,636.83 C680.99,636.68 681.82,636.53 682.64,636.39 C683.46,636.24 684.28,636.09 685.10,635.94 C685.92,635.79 686.74,635.64 687.57,635.48 C688.39,635.33 689.21,635.18 690.03,635.02 C690.85,634.87 691.67,634.71 692.49,634.56 C693.32,634.40 694.14,634.24 694.96,634.09 C695.78,633.93 696.60,633.77 697.42,633.61 C698.24,633.45 699.07,633.29 699.89,633.12 C700.71,632.96 701.53,632.80 702.35,632.63 C703.17,632.47 703.99,632.30 704.82,632.13 C705.64,631.97 706.46,631.80 707.28,631.63 C708.10,631.46 708.92,631.29 709.74,631.12 C710.56,630.94 711.39,630.77 712.21,630.60 C713.03,630.42 713.85,630.25 714.67,630.07 C715.49,629.90 716.31,629.72 717.14,629.54 C717.96,629.36 718.78,629.18 719.60,629.00 C720.42,628.82 721.24,628.64 722.06,628.45 C722.89,628.27 723.71,628.09 724.53,627.90 C725.35,627.71 726.17,627.53 726.99,627.34 C727.81,627.15 728.64,626.96 729.46,626.77 C730.28,626.58 731.10,626.39 731.92,626.19 C732.74,626.00 733.56,625.80 734.38,625.61 C735.21,625.41 736.03,625.21 736.85,625.01 C737.67,624.82 738.49,624.62 739.31,624.41 C740.13,624.21 740.96,624.01 741.78,623.81 C742.60,623.60 743.42,623.40 744.24,623.19 C745.06,622.98 745.88,622.77 746.71,622.56 C747.53,622.36 748.35,622.14 749.17,621.93 C749.99,621.72 750.81,621.51 751.63,621.29 C752.46,621.07 753.28,620.86 754.10,620.64 C754.92,620.42 755.74,620.20 756.56,619.98 C757.38,619.76 758.21,619.54 759.03,619.31 C759.85,619.09 760.67,618.86 761.49,618.64 C762.31,618.41 763.13,618.18 763.95,617.95 C764.78,617.72 765.60,617.49 766.42,617.25 C767.24,617.02 768.06,616.79 768.88,616.55 C769.70,616.31 770.53,616.08 771.35,615.84 C772.17,615.60 772.99,615.36 773.81,615.11 C774.63,614.87 775.45,614.63 776.28,614.38 C777.10,614.13 777.92,613.89 778.74,613.64 C779.56,613.39 780.38,613.14 781.20,612.88 C782.03,612.63 782.85,612.38 783.67,612.12 C784.49,611.86 785.31,611.61 786.13,611.35 C786.95,611.09 787.77,610.83 788.60,610.56 C789.42,610.30 790.24,610.03 791.06,609.77 C791.88,609.50 792.70,609.23 793.52,608.96 C794.35,608.69 795.17,608.42 795.99,608.15 C796.81,607.87 797.63,607.60 798.45,607.32 C799.27,607.04 800.10,606.76 800.92,606.48 C801.74,606.20 802.56,605.92 803.38,605.63 C804.20,605.35 805.02,605.06 805.85,604.77 C806.67,604.48 807.49,604.19 808.31,603.90 C809.13,603.61 809.95,603.31 810.77,603.02 C811.59,602.72 812.42,602.42 813.24,602.12 C814.06,601.82 814.88,601.52 815.70,601.21 C816.52,600.91 817.34,600.60 818.17,600.30 C818.99,599.99 819.81,599.68 820.63,599.36 C821.45,599.05 822.27,598.74 823.09,598.42 C823.92,598.10 824.74,597.78 825.56,597.46 C826.38,597.14 827.20,596.82 828.02,596.49 C828.84,596.17 829.67,595.84 830.49,595.51 C831.31,595.18 832.13,594.85 832.95,594.51 C833.77,594.18 834.59,593.84 835.42,593.50 C836.24,593.16 837.06,592.82 837.88,592.48 C838.70,592.14 839.52,591.79 840.34,591.44 C841.16,591.09 841.99,590.74 842.81,590.39 C843.63,590.04 844.45,589.68 845.27,589.33 C846.09,588.97 846.91,588.61 847.74,588.25 C848.56,587.88 849.38,587.52 850.20,587.15 C851.02,586.79 851.84,586.42 852.66,586.04 C853.49,585.67 854.31,585.30 855.13,584.92 C855.95,584.54 856.77,584.16 857.59,583.78 C858.41,583.40 859.24,583.02 860.06,582.63 C860.88,582.24 861.70,581.85 862.52,581.46 C863.34,581.07 864.16,580.67 864.98,580.27 C865.81,579.88 866.63,579.48 867.45,579.07 C868.27,578.67 869.09,578.27 869.91,577.86 C870.73,577.45 871.56,577.04 872.38,576.62 C873.20,576.21 874.02,575.79 874.84,575.37 C875.66,574.95 876.48,574.53 877.31,574.11 C878.13,573.68 878.95,573.25 879.77,572.82 C880.59,572.39 881.41,571.96 882.23,571.52 C883.06,571.09 883.88,570.65 884.70,570.20 C885.52,569.76 886.34,569.32 887.16,568.87 C887.98,568.42 888.81,567.97 889.63,567.51 C890.45,567.06 891.27,566.60 892.09,566.14 C892.91,565.68 893.73,565.22 894.55,564.75 C895.38,564.29 896.20,563.82 897.02,563.34 C897.84,562.87 898.66,562.39 899.48,561.92 C900.30,561.44 901.13,560.95 901.95,560.47 C902.77,559.98 903.59,559.49 904.41,559.00 C905.23,558.51 906.05,558.01 906.88,557.52 C907.70,557.02 908.52,556.51 909.34,556.01 C910.16,555.50 910.98,554.99 911.80,554.48 C912.63,553.97 913.45,553.45 914.27,552.94 C915.09,552.42 915.91,551.89 916.73,551.37 C917.55,550.84 918.37,550.31 919.20,549.78 C920.02,549.25 920.84,548.71 921.66,548.17 C922.48,547.63 923.30,547.09 924.12,546.54 C924.95,545.99 925.77,545.44 926.59,544.88 C927.41,544.33 928.23,543.77 929.05,543.21 C929.87,542.65 930.70,542.08 931.52,541.51 C932.34,540.94 933.16,540.37 933.98,539.79 C934.80,539.21 935.62,538.63 936.45,538.05 C937.27,537.46 938.09,536.87 938.91,536.28 C939.73,535.68 940.55,535.09 941.37,534.49 C942.19,533.89 943.02,533.28 943.84,532.67 C944.66,532.06 945.48,531.45 946.30,530.83 C947.12,530.21 947.94,529.59 948.77,528.97 C949.59,528.34 950.41,527.71 951.23,527.08 C952.05,526.44 952.87,525.81 953.69,525.16 C954.52,524.52 955.34,523.87 956.16,523.22 C956.98,522.57 957.80,521.92 958.62,521.26 C959.44,520.60 960.27,519.93 961.09,519.26 C961.91,518.59 962.73,517.92 963.55,517.24 C964.37,516.57 965.19,515.88 966.02,515.20 C966.84,514.51 967.66,513.82 968.48,513.12 C969.30,512.43 970.12,511.73 970.94,511.02 C971.76,510.32 972.59,509.61 973.41,508.89 C974.23,508.18 975.05,507.46 975.87,506.73 C976.69,506.01 977.51,505.28 978.34,504.54 C979.16,503.81 980.39,502.70 980.80,502.33" fill="none" stroke="#0000f2" stroke-width="4.5" stroke-linecap="butt"/>
<circle cx="590.20" cy="666.80" r="4.8" fill="#000"/>
<circle cx="646.10" cy="664.30" r="4.8" fill="#000"/>
<circle cx="701.60" cy="664.80" r="4.8" fill="#000"/>
<circle cx="813.60" cy="583.40" r="4.8" fill="#000"/>
<circle cx="869.40" cy="538.00" r="4.8" fill="#000"/>
<circle cx="980.80" cy="519.60" r="4.8" fill="#000"/>
<rect x="574.5" y="405.0" width="422.00" height="286.50" fill="none" stroke="#000" stroke-width="2.4"/>
<line x1="570.90" y1="439.50" x2="574.50" y2="439.50" stroke="#000" stroke-width="2.4"/>
<line x1="570.90" y1="552.90" x2="574.50" y2="552.90" stroke="#000" stroke-width="2.4"/>
<line x1="570.90" y1="667.00" x2="574.50" y2="667.00" stroke="#000" stroke-width="2.4"/>
<line x1="589.60" y1="691.50" x2="589.60" y2="695.10" stroke="#000" stroke-width="2.4"/>
<line x1="645.51" y1="691.50" x2="645.51" y2="695.10" stroke="#000" stroke-width="2.4"/>
<line x1="701.42" y1="691.50" x2="701.42" y2="695.10" stroke="#000" stroke-width="2.4"/>
<line x1="757.33" y1="691.50" x2="757.33" y2="695.10" stroke="#000" stroke-width="2.4"/>
<line x1="813.24" y1="691.50" x2="813.24" y2="695.10" stroke="#000" stroke-width="2.4"/>
<line x1="869.15" y1="691.50" x2="869.15" y2="695.10" stroke="#000" stroke-width="2.4"/>
<line x1="925.06" y1="691.50" x2="925.06" y2="695.10" stroke="#000" stroke-width="2.4"/>
<line x1="980.97" y1="691.50" x2="980.97" y2="695.10" stroke="#000" stroke-width="2.4"/>
<text x="546.80" y="450.38" style="font-family:&quot;Liberation Serif&quot;,serif;font-size:25px" fill="#000">2</text>
<text x="548.80" y="564.45" style="font-family:&quot;Liberation Serif&quot;,serif;font-size:25px" fill="#000">1</text>
<text x="550.20" y="677.89" style="font-family:&quot;Liberation Serif&quot;,serif;font-size:25px" fill="#000">0</text>
<text x="591.00" y="441.50" style="font-family:&quot;Liberation Serif&quot;,serif;font-size:24px" fill="#000">Val</text>
<text x="696.95" y="455.80" style="font-family:&quot;Liberation Serif&quot;,serif;font-style:italic;font-size:24.512500000000003px" fill="#000">R</text>
<text x="715.30" y="443.50" style="font-family:&quot;Liberation Serif&quot;,serif;font-size:24.975px" fill="#000">2</text>
<text x="734.63" y="455.80" style="font-family:&quot;Liberation Serif&quot;,serif;font-size:24.512500000000003px" fill="#000">=</text>
<text x="754.43" y="455.80" style="font-family:&quot;Liberation Serif&quot;,serif;font-size:24.512500000000003px" fill="#000">0.819,</text>
<text x="827.10" y="455.80" style="font-family:&quot;Liberation Serif&quot;,serif;font-style:italic;font-size:24.512500000000003px" fill="#000">p</text>
<text x="852.48" y="455.80" style="font-family:&quot;Liberation Serif&quot;,serif;font-size:24.512500000000003px" fill="#000">=</text>
<text x="873.11" y="455.80" style="font-family:&quot;Liberation Serif&quot;,serif;font-size:24.512500000000003px" fill="#000">0.0131</text>
<path d="M1054.80,617.56 C1055.92,617.32 1059.26,616.60 1061.49,616.11 C1063.72,615.62 1065.96,615.12 1068.19,614.61 C1070.42,614.11 1072.65,613.59 1074.88,613.07 C1077.11,612.55 1079.34,612.02 1081.57,611.49 C1083.80,610.95 1086.04,610.41 1088.27,609.86 C1090.50,609.32 1092.73,608.77 1094.96,608.21 C1097.19,607.65 1099.42,607.09 1101.65,606.52 C1103.88,605.96 1106.11,605.38 1108.35,604.81 C1110.58,604.23 1112.81,603.65 1115.04,603.07 C1117.27,602.48 1119.50,601.90 1121.73,601.31 C1123.96,600.72 1126.19,600.12 1128.43,599.53 C1130.66,598.93 1132.89,598.33 1135.12,597.73 C1137.35,597.13 1139.58,596.53 1141.81,595.92 C1144.04,595.32 1146.27,594.71 1148.51,594.11 C1150.74,593.50 1152.97,592.89 1155.20,592.28 C1157.43,591.67 1159.66,591.07 1161.89,590.46 C1164.12,589.85 1166.35,589.24 1168.58,588.63 C1170.82,588.02 1173.05,587.41 1175.28,586.81 C1177.51,586.20 1179.74,585.59 1181.97,584.99 C1184.20,584.39 1186.43,583.78 1188.66,583.18 C1190.90,582.58 1193.13,581.99 1195.36,581.39 C1197.59,580.79 1199.82,580.20 1202.05,579.61 C1204.28,579.02 1206.51,578.43 1208.74,577.85 C1210.98,577.26 1213.21,576.68 1215.44,576.09 C1217.67,575.50 1219.90,574.92 1222.13,574.32 C1224.36,573.73 1226.59,573.14 1228.82,572.54 C1231.05,571.95 1233.29,571.35 1235.52,570.74 C1237.75,570.13 1239.98,569.52 1242.21,568.89 C1244.44,568.27 1246.67,567.64 1248.90,567.00 C1251.13,566.36 1253.37,565.71 1255.60,565.05 C1257.83,564.39 1260.06,563.72 1262.29,563.03 C1264.52,562.35 1266.75,561.65 1268.98,560.94 C1271.21,560.22 1273.45,559.49 1275.68,558.75 C1277.91,558.00 1280.14,557.24 1282.37,556.46 C1284.60,555.68 1286.83,554.88 1289.06,554.06 C1291.29,553.24 1293.52,552.40 1295.76,551.54 C1297.99,550.68 1300.22,549.80 1302.45,548.89 C1304.68,547.98 1306.91,547.05 1309.14,546.09 C1311.37,545.14 1313.60,544.16 1315.84,543.14 C1318.07,542.13 1320.30,541.09 1322.53,540.01 C1324.76,538.93 1326.99,537.82 1329.22,536.68 C1331.45,535.53 1333.68,534.34 1335.92,533.11 C1338.15,531.89 1340.38,530.62 1342.61,529.31 C1344.84,527.99 1347.07,526.64 1349.30,525.23 C1351.53,523.82 1353.76,522.36 1355.99,520.85 C1358.23,519.34 1360.46,517.79 1362.69,516.17 C1364.92,514.55 1367.15,512.87 1369.38,511.14 C1371.61,509.40 1373.84,507.61 1376.07,505.75 C1378.31,503.89 1380.54,501.97 1382.77,499.98 C1385.00,497.98 1387.23,495.93 1389.46,493.79 C1391.69,491.66 1393.92,489.46 1396.15,487.18 C1398.39,484.90 1400.62,482.55 1402.85,480.12 C1405.08,477.69 1407.31,475.18 1409.54,472.58 C1411.77,469.99 1414.00,467.31 1416.23,464.55 C1418.46,461.78 1420.70,458.93 1422.93,455.99 C1425.16,453.05 1427.39,450.02 1429.62,446.89 C1431.85,443.76 1434.08,440.55 1436.31,437.23 C1438.54,433.91 1440.78,430.49 1443.01,426.97 C1445.24,423.45 1448.58,417.92 1449.70,416.11 L1449.70,579.58 C1448.58,579.87 1445.24,580.68 1443.01,581.28 C1440.78,581.88 1438.54,582.53 1436.31,583.20 C1434.08,583.87 1431.85,584.57 1429.62,585.31 C1427.39,586.04 1425.16,586.81 1422.93,587.60 C1420.70,588.39 1418.46,589.21 1416.23,590.05 C1414.00,590.89 1411.77,591.75 1409.54,592.64 C1407.31,593.52 1405.08,594.43 1402.85,595.35 C1400.62,596.27 1398.39,597.21 1396.15,598.16 C1393.92,599.11 1391.69,600.08 1389.46,601.06 C1387.23,602.04 1385.00,603.03 1382.77,604.02 C1380.54,605.02 1378.31,606.03 1376.07,607.04 C1373.84,608.05 1371.61,609.07 1369.38,610.09 C1367.15,611.11 1364.92,612.13 1362.69,613.16 C1360.46,614.18 1358.23,615.21 1355.99,616.24 C1353.76,617.27 1351.53,618.29 1349.30,619.32 C1347.07,620.34 1344.84,621.36 1342.61,622.38 C1340.38,623.40 1338.15,624.41 1335.92,625.41 C1333.68,626.42 1331.45,627.42 1329.22,628.40 C1326.99,629.39 1324.76,630.37 1322.53,631.34 C1320.30,632.31 1318.07,633.27 1315.84,634.21 C1313.60,635.15 1311.37,636.09 1309.14,637.00 C1306.91,637.91 1304.68,638.81 1302.45,639.70 C1300.22,640.58 1297.99,641.44 1295.76,642.29 C1293.52,643.14 1291.29,643.98 1289.06,644.80 C1286.83,645.62 1284.60,646.42 1282.37,647.21 C1280.14,648.00 1277.91,648.77 1275.68,649.53 C1273.45,650.29 1271.21,651.03 1268.98,651.76 C1266.75,652.49 1264.52,653.20 1262.29,653.90 C1260.06,654.60 1257.83,655.29 1255.60,655.96 C1253.37,656.63 1251.13,657.28 1248.90,657.93 C1246.67,658.57 1244.44,659.20 1242.21,659.82 C1239.98,660.43 1237.75,661.04 1235.52,661.63 C1233.29,662.21 1231.05,662.79 1228.82,663.35 C1226.59,663.92 1224.36,664.47 1222.13,665.01 C1219.90,665.54 1217.67,666.07 1215.44,666.58 C1213.21,667.10 1210.98,667.60 1208.74,668.08 C1206.51,668.57 1204.28,669.05 1202.05,669.52 C1199.82,669.98 1197.59,670.43 1195.36,670.88 C1193.13,671.32 1190.90,671.75 1188.66,672.17 C1186.43,672.59 1184.20,673.00 1181.97,673.39 C1179.74,673.79 1177.51,674.18 1175.28,674.55 C1173.05,674.93 1170.82,675.30 1168.58,675.65 C1166.35,676.01 1164.12,676.35 1161.89,676.69 C1159.66,677.02 1157.43,677.35 1155.20,677.67 C1152.97,677.98 1150.74,678.29 1148.51,678.59 C1146.27,678.88 1144.04,679.17 1141.81,679.45 C1139.58,679.73 1137.35,680.00 1135.12,680.26 C1132.89,680.52 1130.66,680.77 1128.43,681.01 C1126.19,681.26 1123.96,681.49 1121.73,681.72 C1119.50,681.95 1117.27,682.17 1115.04,682.38 C1112.81,682.59 1110.58,682.79 1108.35,682.99 C1106.11,683.18 1103.88,683.37 1101.65,683.55 C1099.42,683.73 1097.19,683.91 1094.96,684.08 C1092.73,684.24 1090.50,684.40 1088.27,684.56 C1086.04,684.71 1083.80,684.85 1081.57,685.00 C1079.34,685.14 1077.11,685.27 1074.88,685.40 C1072.65,685.52 1070.42,685.65 1068.19,685.76 C1065.96,685.88 1063.72,685.99 1061.49,686.09 C1059.26,686.20 1055.92,686.34 1054.80,686.39 Z" fill="#e8e9ea"/>
<path d="M1054.60,651.66 C1055.01,651.61 1056.25,651.47 1057.08,651.38 C1057.90,651.28 1058.73,651.19 1059.55,651.09 C1060.38,651.00 1061.20,650.90 1062.03,650.80 C1062.86,650.70 1063.68,650.61 1064.51,650.51 C1065.33,650.41 1066.16,650.31 1066.98,650.21 C1067.81,650.11 1068.63,650.01 1069.46,649.91 C1070.29,649.81 1071.11,649.70 1071.94,649.60 C1072.76,649.50 1073.59,649.40 1074.41,649.29 C1075.24,649.19 1076.06,649.08 1076.89,648.98 C1077.72,648.87 1078.54,648.77 1079.37,648.66 C1080.19,648.55 1081.02,648.45 1081.84,648.34 C1082.67,648.23 1083.50,648.12 1084.32,648.01 C1085.15,647.90 1085.97,647.79 1086.80,647.68 C1087.62,647.57 1088.45,647.46 1089.27,647.34 C1090.10,647.23 1090.93,647.12 1091.75,647.00 C1092.58,646.89 1093.40,646.77 1094.23,646.66 C1095.05,646.54 1095.88,646.43 1096.70,646.31 C1097.53,646.19 1098.36,646.07 1099.18,645.96 C1100.01,645.84 1100.83,645.72 1101.66,645.60 C1102.48,645.48 1103.31,645.36 1104.13,645.23 C1104.96,645.11 1105.79,644.99 1106.61,644.87 C1107.44,644.74 1108.26,644.62 1109.09,644.49 C1109.91,644.37 1110.74,644.24 1111.56,644.11 C1112.39,643.99 1113.22,643.86 1114.04,643.73 C1114.87,643.60 1115.69,643.47 1116.52,643.34 C1117.34,643.21 1118.17,643.08 1118.99,642.95 C1119.82,642.82 1120.65,642.68 1121.47,642.55 C1122.30,642.42 1123.12,642.28 1123.95,642.15 C1124.77,642.01 1125.60,641.87 1126.43,641.74 C1127.25,641.60 1128.08,641.46 1128.90,641.32 C1129.73,641.18 1130.55,641.04 1131.38,640.90 C1132.20,640.76 1133.03,640.62 1133.86,640.48 C1134.68,640.33 1135.51,640.19 1136.33,640.05 C1137.16,639.90 1137.98,639.75 1138.81,639.61 C1139.63,639.46 1140.46,639.31 1141.29,639.16 C1142.11,639.02 1142.94,638.87 1143.76,638.72 C1144.59,638.57 1145.41,638.41 1146.24,638.26 C1147.06,638.11 1147.89,637.95 1148.72,637.80 C1149.54,637.65 1150.37,637.49 1151.19,637.33 C1152.02,637.18 1152.84,637.02 1153.67,636.86 C1154.49,636.70 1155.32,636.54 1156.15,636.38 C1156.97,636.22 1157.80,636.06 1158.62,635.89 C1159.45,635.73 1160.27,635.57 1161.10,635.40 C1161.92,635.24 1162.75,635.07 1163.58,634.90 C1164.40,634.73 1165.23,634.57 1166.05,634.40 C1166.88,634.23 1167.70,634.06 1168.53,633.88 C1169.36,633.71 1170.18,633.54 1171.01,633.36 C1171.83,633.19 1172.66,633.01 1173.48,632.84 C1174.31,632.66 1175.13,632.48 1175.96,632.31 C1176.79,632.13 1177.61,631.95 1178.44,631.76 C1179.26,631.58 1180.09,631.40 1180.91,631.22 C1181.74,631.03 1182.56,630.85 1183.39,630.66 C1184.22,630.48 1185.04,630.29 1185.87,630.10 C1186.69,629.91 1187.52,629.72 1188.34,629.53 C1189.17,629.34 1189.99,629.15 1190.82,628.95 C1191.65,628.76 1192.47,628.56 1193.30,628.37 C1194.12,628.17 1194.95,627.97 1195.77,627.78 C1196.60,627.58 1197.42,627.38 1198.25,627.18 C1199.08,626.97 1199.90,626.77 1200.73,626.57 C1201.55,626.36 1202.38,626.16 1203.20,625.95 C1204.03,625.74 1204.85,625.53 1205.68,625.32 C1206.51,625.12 1207.33,624.90 1208.16,624.69 C1208.98,624.48 1209.81,624.27 1210.63,624.05 C1211.46,623.83 1212.29,623.62 1213.11,623.40 C1213.94,623.18 1214.76,622.96 1215.59,622.74 C1216.41,622.52 1217.24,622.30 1218.06,622.07 C1218.89,621.85 1219.72,621.62 1220.54,621.40 C1221.37,621.17 1222.19,620.94 1223.02,620.71 C1223.84,620.48 1224.67,620.25 1225.49,620.02 C1226.32,619.78 1227.15,619.55 1227.97,619.31 C1228.80,619.08 1229.62,618.84 1230.45,618.60 C1231.27,618.36 1232.10,618.12 1232.92,617.88 C1233.75,617.63 1234.58,617.39 1235.40,617.14 C1236.23,616.90 1237.05,616.65 1237.88,616.40 C1238.70,616.15 1239.53,615.90 1240.35,615.65 C1241.18,615.40 1242.01,615.14 1242.83,614.89 C1243.66,614.63 1244.48,614.37 1245.31,614.12 C1246.13,613.86 1246.96,613.60 1247.78,613.33 C1248.61,613.07 1249.44,612.81 1250.26,612.54 C1251.09,612.27 1251.91,612.01 1252.74,611.74 C1253.56,611.47 1254.39,611.20 1255.22,610.92 C1256.04,610.65 1256.87,610.37 1257.69,610.10 C1258.52,609.82 1259.34,609.54 1260.17,609.26 C1260.99,608.98 1261.82,608.70 1262.65,608.41 C1263.47,608.13 1264.30,607.84 1265.12,607.56 C1265.95,607.27 1266.77,606.98 1267.60,606.69 C1268.42,606.39 1269.25,606.10 1270.08,605.80 C1270.90,605.51 1271.73,605.21 1272.55,604.91 C1273.38,604.61 1274.20,604.31 1275.03,604.01 C1275.85,603.70 1276.68,603.40 1277.51,603.09 C1278.33,602.78 1279.16,602.47 1279.98,602.16 C1280.81,601.85 1281.63,601.53 1282.46,601.22 C1283.28,600.90 1284.11,600.58 1284.94,600.26 C1285.76,599.94 1286.59,599.62 1287.41,599.30 C1288.24,598.97 1289.06,598.65 1289.89,598.32 C1290.71,597.99 1291.54,597.66 1292.37,597.32 C1293.19,596.99 1294.02,596.66 1294.84,596.32 C1295.67,595.98 1296.49,595.64 1297.32,595.30 C1298.15,594.96 1298.97,594.61 1299.80,594.27 C1300.62,593.92 1301.45,593.57 1302.27,593.22 C1303.10,592.87 1303.92,592.51 1304.75,592.16 C1305.58,591.80 1306.40,591.44 1307.23,591.08 C1308.05,590.72 1308.88,590.36 1309.70,590.00 C1310.53,589.63 1311.35,589.26 1312.18,588.89 C1313.01,588.52 1313.83,588.15 1314.66,587.77 C1315.48,587.40 1316.31,587.02 1317.13,586.64 C1317.96,586.26 1318.78,585.88 1319.61,585.49 C1320.44,585.11 1321.26,584.72 1322.09,584.33 C1322.91,583.94 1323.74,583.54 1324.56,583.15 C1325.39,582.75 1326.21,582.36 1327.04,581.95 C1327.87,581.55 1328.69,581.15 1329.52,580.74 C1330.34,580.34 1331.17,579.93 1331.99,579.52 C1332.82,579.11 1333.64,578.69 1334.47,578.27 C1335.30,577.86 1336.12,577.44 1336.95,577.01 C1337.77,576.59 1338.60,576.17 1339.42,575.74 C1340.25,575.31 1341.08,574.88 1341.90,574.44 C1342.73,574.01 1343.55,573.57 1344.38,573.13 C1345.20,572.69 1346.03,572.25 1346.85,571.81 C1347.68,571.36 1348.51,570.91 1349.33,570.46 C1350.16,570.01 1350.98,569.55 1351.81,569.10 C1352.63,568.64 1353.46,568.18 1354.28,567.71 C1355.11,567.25 1355.94,566.78 1356.76,566.31 C1357.59,565.84 1358.41,565.37 1359.24,564.89 C1360.06,564.42 1360.89,563.94 1361.71,563.46 C1362.54,562.97 1363.37,562.49 1364.19,562.00 C1365.02,561.51 1365.84,561.02 1366.67,560.52 C1367.49,560.03 1368.32,559.53 1369.14,559.03 C1369.97,558.53 1370.80,558.02 1371.62,557.51 C1372.45,557.00 1373.27,556.49 1374.10,555.98 C1374.92,555.46 1375.75,554.94 1376.57,554.42 C1377.40,553.90 1378.23,553.37 1379.05,552.84 C1379.88,552.31 1380.70,551.78 1381.53,551.24 C1382.35,550.71 1383.18,550.17 1384.01,549.62 C1384.83,549.08 1385.66,548.53 1386.48,547.98 C1387.31,547.43 1388.13,546.88 1388.96,546.32 C1389.78,545.76 1390.61,545.20 1391.44,544.64 C1392.26,544.07 1393.09,543.50 1393.91,542.93 C1394.74,542.35 1395.56,541.78 1396.39,541.20 C1397.21,540.62 1398.04,540.03 1398.87,539.44 C1399.69,538.86 1400.52,538.26 1401.34,537.67 C1402.17,537.07 1402.99,536.47 1403.82,535.87 C1404.64,535.26 1405.47,534.66 1406.30,534.04 C1407.12,533.43 1407.95,532.81 1408.77,532.19 C1409.60,531.57 1410.42,530.95 1411.25,530.32 C1412.07,529.69 1412.90,529.06 1413.73,528.42 C1414.55,527.79 1415.38,527.15 1416.20,526.50 C1417.03,525.85 1417.85,525.20 1418.68,524.55 C1419.50,523.90 1420.33,523.24 1421.16,522.58 C1421.98,521.91 1422.81,521.25 1423.63,520.57 C1424.46,519.90 1425.28,519.23 1426.11,518.55 C1426.94,517.87 1427.76,517.18 1428.59,516.49 C1429.41,515.80 1430.24,515.11 1431.06,514.41 C1431.89,513.71 1432.71,513.01 1433.54,512.30 C1434.37,511.59 1435.19,510.88 1436.02,510.16 C1436.84,509.44 1437.67,508.72 1438.49,508.00 C1439.32,507.27 1440.14,506.54 1440.97,505.80 C1441.80,505.06 1442.62,504.32 1443.45,503.58 C1444.27,502.83 1445.10,502.08 1445.92,501.32 C1446.75,500.57 1447.99,499.42 1448.40,499.04" fill="none" stroke="#0000f2" stroke-width="4.5" stroke-linecap="butt"/>
<circle cx="1054.80" cy="659.90" r="4.8" fill="#000"/>
<circle cx="1111.00" cy="663.80" r="4.8" fill="#000"/>
<circle cx="1167.20" cy="665.00" r="4.8" fill="#000"/>
<circle cx="1279.60" cy="585.30" r="4.8" fill="#000"/>
<circle cx="1336.60" cy="533.80" r="4.8" fill="#000"/>
<circle cx="1448.70" cy="516.20" r="4.8" fill="#000"/>
<rect x="1039.3" y="406.0" width="425.00" height="289.00" fill="none" stroke="#000" stroke-width="2.4"/>
<line x1="1035.70" y1="407.70" x2="1039.30" y2="407.70" stroke="#000" stroke-width="2.4"/>
<line x1="1035.70" y1="461.10" x2="1039.30" y2="461.10" stroke="#000" stroke-width="2.4"/>
<line x1="1035.70" y1="514.50" x2="1039.30" y2="514.50" stroke="#000" stroke-width="2.4"/>
<line x1="1035.70" y1="567.60" x2="1039.30" y2="567.60" stroke="#000" stroke-width="2.4"/>
<line x1="1035.70" y1="620.70" x2="1039.30" y2="620.70" stroke="#000" stroke-width="2.4"/>
<line x1="1035.70" y1="674.50" x2="1039.30" y2="674.50" stroke="#000" stroke-width="2.4"/>
<line x1="1054.90" y1="695.00" x2="1054.90" y2="698.60" stroke="#000" stroke-width="2.4"/>
<line x1="1111.14" y1="695.00" x2="1111.14" y2="698.60" stroke="#000" stroke-width="2.4"/>
<line x1="1167.38" y1="695.00" x2="1167.38" y2="698.60" stroke="#000" stroke-width="2.4"/>
<line x1="1223.62" y1="695.00" x2="1223.62" y2="698.60" stroke="#000" stroke-width="2.4"/>
<line x1="1279.86" y1="695.00" x2="1279.86" y2="698.60" stroke="#000" stroke-width="2.4"/>
<line x1="1336.10" y1="695.00" x2="1336.10" y2="698.60" stroke="#000" stroke-width="2.4"/>
<line x1="1392.34" y1="695.00" x2="1392.34" y2="698.60" stroke="#000" stroke-width="2.4"/>
<line x1="1448.58" y1="695.00" x2="1448.58" y2="698.60" stroke="#000" stroke-width="2.4"/>
<text x="1019.00" y="417.39" style="font-family:&quot;Liberation Serif&quot;,serif;font-size:25px" fill="#000">0</text>
<text x="1016.00" y="471.09" style="font-family:&quot;Liberation Serif&quot;,serif;font-size:25px" fill="#000">8</text>
<text x="1016.20" y="524.45" style="font-family:&quot;Liberation Serif&quot;,serif;font-size:25px" fill="#000">6</text>
<text x="1016.70" y="578.02" style="font-family:&quot;Liberation Serif&quot;,serif;font-size:25px" fill="#000">4</text>
<text x="1016.70" y="632.67" style="font-family:&quot;Liberation Serif&quot;,serif;font-size:25px" fill="#000">2</text>
<text x="1016.00" y="685.69" style="font-family:&quot;Liberation Serif&quot;,serif;font-size:25px" fill="#000">0</text>
<text x="1054.20" y="440.60" style="font-family:&quot;Liberation Serif&quot;,serif;font-size:22px" fill="#000">Pro</text>
<text x="1162.75" y="456.00" style="font-family:&quot;Liberation Serif&quot;,serif;font-style:italic;font-size:24.751px" fill="#000">R</text>
<text x="1181.28" y="443.58" style="font-family:&quot;Liberation Serif&quot;,serif;font-size:25.218px" fill="#000">2</text>
<text x="1200.80" y="456.00" style="font-family:&quot;Liberation Serif&quot;,serif;font-size:24.751px" fill="#000">=</text>
<text x="1220.79" y="456.00" style="font-family:&quot;Liberation Serif&quot;,serif;font-size:24.751px" fill="#000">0.836,</text>
<text x="1294.17" y="456.00" style="font-family:&quot;Liberation Serif&quot;,serif;font-style:italic;font-size:24.751px" fill="#000">p</text>
<text x="1319.79" y="456.00" style="font-family:&quot;Liberation Serif&quot;,serif;font-size:24.751px" fill="#000">=</text>
<text x="1340.62" y="456.00" style="font-family:&quot;Liberation Serif&quot;,serif;font-size:24.751px" fill="#000">0.0107</text>
<path d="M118.40,851.57 C119.50,850.93 122.80,849.01 124.99,847.68 C127.19,846.36 129.39,845.00 131.59,843.62 C133.78,842.23 135.98,840.82 138.18,839.39 C140.38,837.96 142.58,836.50 144.77,835.02 C146.97,833.54 149.17,832.04 151.37,830.52 C153.56,829.01 155.76,827.47 157.96,825.92 C160.16,824.37 162.35,822.80 164.55,821.23 C166.75,819.65 168.95,818.06 171.15,816.46 C173.34,814.86 175.54,813.25 177.74,811.64 C179.94,810.03 182.13,808.40 184.33,806.78 C186.53,805.16 188.73,803.53 190.93,801.90 C193.12,800.28 195.32,798.65 197.52,797.02 C199.72,795.40 201.91,793.78 204.11,792.16 C206.31,790.54 208.51,788.93 210.71,787.33 C212.90,785.73 215.10,784.13 217.30,782.55 C219.50,780.97 221.69,779.40 223.89,777.84 C226.09,776.29 228.29,774.75 230.48,773.24 C232.68,771.72 234.88,770.23 237.08,768.76 C239.28,767.30 241.47,765.85 243.67,764.45 C245.87,763.04 248.07,761.66 250.26,760.32 C252.46,758.98 254.66,757.68 256.86,756.41 C259.06,755.15 261.25,753.93 263.45,752.75 C265.65,751.58 267.85,750.45 270.04,749.37 C272.24,748.29 274.44,747.26 276.64,746.29 C278.84,745.32 281.03,744.41 283.23,743.55 C285.43,742.70 287.63,741.90 289.82,741.18 C292.02,740.45 294.22,739.79 296.42,739.20 C298.61,738.61 300.81,738.08 303.01,737.64 C305.21,737.19 307.41,736.82 309.60,736.53 C311.80,736.24 314.00,736.03 316.20,735.91 C318.39,735.78 320.59,735.75 322.79,735.79 C324.99,735.83 327.19,735.96 329.38,736.17 C331.58,736.37 333.78,736.66 335.98,737.01 C338.17,737.37 340.37,737.80 342.57,738.29 C344.77,738.79 346.96,739.36 349.16,739.99 C351.36,740.61 353.56,741.31 355.76,742.06 C357.95,742.81 360.15,743.63 362.35,744.49 C364.55,745.36 366.74,746.28 368.94,747.25 C371.14,748.22 373.34,749.24 375.54,750.30 C377.73,751.36 379.93,752.48 382.13,753.62 C384.33,754.77 386.52,755.97 388.72,757.19 C390.92,758.41 393.12,759.68 395.32,760.97 C397.51,762.26 399.71,763.59 401.91,764.94 C404.11,766.28 406.30,767.66 408.50,769.06 C410.70,770.45 412.90,771.88 415.09,773.31 C417.29,774.75 419.49,776.20 421.69,777.67 C423.89,779.13 426.08,780.61 428.28,782.09 C430.48,783.58 432.68,785.07 434.87,786.57 C437.07,788.06 439.27,789.56 441.47,791.06 C443.67,792.55 445.86,794.05 448.06,795.54 C450.26,797.02 452.46,798.51 454.65,799.98 C456.85,801.45 459.05,802.91 461.25,804.35 C463.45,805.79 465.64,807.23 467.84,808.63 C470.04,810.04 472.24,811.43 474.43,812.79 C476.63,814.15 478.83,815.49 481.03,816.79 C483.22,818.10 485.42,819.38 487.62,820.62 C489.82,821.86 492.02,823.07 494.21,824.24 C496.41,825.40 498.61,826.54 500.81,827.62 C503.00,828.70 506.30,830.22 507.40,830.74 L507.40,960.81 C506.30,959.26 503.00,954.56 500.81,951.51 C498.61,948.47 496.41,945.48 494.21,942.54 C492.02,939.61 489.82,936.72 487.62,933.90 C485.42,931.07 483.22,928.29 481.03,925.57 C478.83,922.85 476.63,920.19 474.43,917.58 C472.24,914.96 470.04,912.41 467.84,909.90 C465.64,907.40 463.45,904.95 461.25,902.55 C459.05,900.16 456.85,897.81 454.65,895.53 C452.46,893.24 450.26,891.00 448.06,888.82 C445.86,886.64 443.67,884.52 441.47,882.44 C439.27,880.37 437.07,878.35 434.87,876.39 C432.68,874.42 430.48,872.51 428.28,870.65 C426.08,868.79 423.89,866.99 421.69,865.24 C419.49,863.49 417.29,861.79 415.09,860.15 C412.90,858.50 410.70,856.91 408.50,855.38 C406.30,853.84 404.11,852.36 401.91,850.93 C399.71,849.50 397.51,848.12 395.32,846.80 C393.12,845.48 390.92,844.21 388.72,843.00 C386.52,841.78 384.33,840.62 382.13,839.51 C379.93,838.41 377.73,837.35 375.54,836.35 C373.34,835.35 371.14,834.41 368.94,833.52 C366.74,832.63 364.55,831.79 362.35,831.00 C360.15,830.22 357.95,829.49 355.76,828.81 C353.56,828.13 351.36,827.51 349.16,826.94 C346.96,826.37 344.77,825.86 342.57,825.40 C340.37,824.94 338.17,824.53 335.98,824.17 C333.78,823.82 331.58,823.52 329.38,823.28 C327.19,823.03 324.99,822.84 322.79,822.70 C320.59,822.56 318.39,822.48 316.20,822.45 C314.00,822.42 311.80,822.44 309.60,822.52 C307.41,822.60 305.21,822.73 303.01,822.92 C300.81,823.10 298.61,823.34 296.42,823.64 C294.22,823.93 292.02,824.28 289.82,824.68 C287.63,825.09 285.43,825.54 283.23,826.06 C281.03,826.57 278.84,827.13 276.64,827.75 C274.44,828.37 272.24,829.05 270.04,829.77 C267.85,830.50 265.65,831.29 263.45,832.12 C261.25,832.96 259.06,833.85 256.86,834.80 C254.66,835.75 252.46,836.75 250.26,837.80 C248.07,838.86 245.87,839.97 243.67,841.13 C241.47,842.30 239.28,843.51 237.08,844.79 C234.88,846.06 232.68,847.39 230.48,848.77 C228.29,850.16 226.09,851.59 223.89,853.09 C221.69,854.58 219.50,856.13 217.30,857.73 C215.10,859.33 212.90,860.99 210.71,862.70 C208.51,864.41 206.31,866.18 204.11,868.00 C201.91,869.82 199.72,871.69 197.52,873.63 C195.32,875.56 193.12,877.54 190.93,879.59 C188.73,881.63 186.53,883.72 184.33,885.87 C182.13,888.03 179.94,890.23 177.74,892.49 C175.54,894.76 173.34,897.07 171.15,899.44 C168.95,901.82 166.75,904.24 164.55,906.73 C162.35,909.21 160.16,911.75 157.96,914.34 C155.76,916.93 153.56,919.58 151.37,922.28 C149.17,924.99 146.97,927.75 144.77,930.56 C142.58,933.38 140.38,936.24 138.18,939.17 C135.98,942.10 133.78,945.08 131.59,948.11 C129.39,951.15 127.19,954.24 124.99,957.39 C122.80,960.54 119.50,965.40 118.40,967.00 Z" fill="#e8e9ea"/>
<path d="M118.80,931.40 C119.21,930.77 120.42,928.86 121.24,927.61 C122.05,926.35 122.86,925.10 123.67,923.86 C124.48,922.62 125.29,921.38 126.11,920.16 C126.92,918.93 127.73,917.71 128.54,916.50 C129.35,915.29 130.16,914.09 130.98,912.89 C131.79,911.70 132.60,910.51 133.41,909.33 C134.22,908.15 135.03,906.98 135.85,905.82 C136.66,904.65 137.47,903.50 138.28,902.35 C139.09,901.20 139.91,900.06 140.72,898.93 C141.53,897.79 142.34,896.67 143.15,895.55 C143.96,894.43 144.78,893.32 145.59,892.22 C146.40,891.12 147.21,890.03 148.02,888.94 C148.83,887.85 149.65,886.77 150.46,885.70 C151.27,884.63 152.08,883.57 152.89,882.51 C153.70,881.46 154.52,880.41 155.33,879.37 C156.14,878.33 156.95,877.30 157.76,876.27 C158.58,875.25 159.39,874.23 160.20,873.22 C161.01,872.22 161.82,871.21 162.63,870.22 C163.45,869.23 164.26,868.24 165.07,867.26 C165.88,866.29 166.69,865.32 167.50,864.35 C168.32,863.39 169.13,862.44 169.94,861.49 C170.75,860.54 171.56,859.60 172.37,858.67 C173.19,857.74 174.00,856.82 174.81,855.90 C175.62,854.99 176.43,854.08 177.25,853.18 C178.06,852.28 178.87,851.39 179.68,850.50 C180.49,849.62 181.30,848.74 182.12,847.87 C182.93,847.00 183.74,846.14 184.55,845.29 C185.36,844.43 186.17,843.59 186.99,842.75 C187.80,841.91 188.61,841.08 189.42,840.26 C190.23,839.43 191.04,838.62 191.86,837.81 C192.67,837.00 193.48,836.20 194.29,835.41 C195.10,834.62 195.92,833.84 196.73,833.06 C197.54,832.28 198.35,831.52 199.16,830.76 C199.97,829.99 200.79,829.24 201.60,828.50 C202.41,827.75 203.22,827.01 204.03,826.28 C204.84,825.55 205.66,824.83 206.47,824.12 C207.28,823.40 208.09,822.70 208.90,822.00 C209.71,821.30 210.53,820.61 211.34,819.93 C212.15,819.24 212.96,818.57 213.77,817.90 C214.59,817.23 215.40,816.57 216.21,815.92 C217.02,815.27 217.83,814.62 218.64,813.99 C219.46,813.35 220.27,812.72 221.08,812.10 C221.89,811.48 222.70,810.87 223.51,810.26 C224.33,809.66 225.14,809.06 225.95,808.47 C226.76,807.88 227.57,807.30 228.38,806.72 C229.20,806.15 230.01,805.58 230.82,805.02 C231.63,804.46 232.44,803.91 233.26,803.37 C234.07,802.82 234.88,802.29 235.69,801.76 C236.50,801.23 237.31,800.71 238.13,800.20 C238.94,799.69 239.75,799.18 240.56,798.68 C241.37,798.19 242.18,797.70 243.00,797.22 C243.81,796.74 244.62,796.26 245.43,795.80 C246.24,795.33 247.05,794.87 247.87,794.42 C248.68,793.97 249.49,793.53 250.30,793.09 C251.11,792.66 251.93,792.23 252.74,791.81 C253.55,791.39 254.36,790.98 255.17,790.58 C255.98,790.17 256.80,789.78 257.61,789.39 C258.42,789.00 259.23,788.62 260.04,788.25 C260.85,787.87 261.67,787.51 262.48,787.15 C263.29,786.79 264.10,786.44 264.91,786.10 C265.72,785.76 266.54,785.43 267.35,785.10 C268.16,784.77 268.97,784.45 269.78,784.14 C270.60,783.83 271.41,783.53 272.22,783.23 C273.03,782.94 273.84,782.65 274.65,782.37 C275.47,782.09 276.28,781.82 277.09,781.56 C277.90,781.29 278.71,781.03 279.52,780.79 C280.34,780.54 281.15,780.30 281.96,780.06 C282.77,779.83 283.58,779.60 284.39,779.39 C285.21,779.17 286.02,778.96 286.83,778.76 C287.64,778.55 288.45,778.36 289.27,778.17 C290.08,777.99 290.89,777.81 291.70,777.63 C292.51,777.46 293.32,777.30 294.14,777.14 C294.95,776.99 295.76,776.84 296.57,776.70 C297.38,776.56 298.19,776.43 299.01,776.30 C299.82,776.18 300.63,776.06 301.44,775.95 C302.25,775.84 303.06,775.74 303.88,775.65 C304.69,775.55 305.50,775.47 306.31,775.39 C307.12,775.31 307.94,775.24 308.75,775.18 C309.56,775.12 310.37,775.06 311.18,775.01 C311.99,774.97 312.81,774.93 313.62,774.90 C314.43,774.86 315.24,774.84 316.05,774.82 C316.86,774.81 317.68,774.80 318.49,774.80 C319.30,774.80 320.11,774.81 320.92,774.82 C321.74,774.83 322.55,774.86 323.36,774.89 C324.17,774.92 324.98,774.96 325.79,775.00 C326.61,775.05 327.42,775.10 328.23,775.16 C329.04,775.22 329.85,775.29 330.66,775.37 C331.48,775.45 332.29,775.53 333.10,775.62 C333.91,775.72 334.72,775.82 335.53,775.93 C336.35,776.03 337.16,776.15 337.97,776.27 C338.78,776.40 339.59,776.53 340.41,776.67 C341.22,776.81 342.03,776.95 342.84,777.11 C343.65,777.26 344.46,777.42 345.28,777.59 C346.09,777.76 346.90,777.94 347.71,778.13 C348.52,778.31 349.33,778.50 350.15,778.71 C350.96,778.91 351.77,779.12 352.58,779.33 C353.39,779.55 354.20,779.77 355.02,780.01 C355.83,780.24 356.64,780.48 357.45,780.72 C358.26,780.97 359.08,781.23 359.89,781.49 C360.70,781.75 361.51,782.02 362.32,782.30 C363.13,782.58 363.95,782.87 364.76,783.16 C365.57,783.46 366.38,783.76 367.19,784.07 C368.00,784.38 368.82,784.69 369.63,785.02 C370.44,785.34 371.25,785.68 372.06,786.02 C372.87,786.36 373.69,786.71 374.50,787.06 C375.31,787.42 376.12,787.78 376.93,788.15 C377.75,788.53 378.56,788.91 379.37,789.29 C380.18,789.68 380.99,790.07 381.80,790.48 C382.62,790.88 383.43,791.29 384.24,791.71 C385.05,792.13 385.86,792.55 386.67,792.99 C387.49,793.42 388.30,793.86 389.11,794.31 C389.92,794.76 390.73,795.22 391.54,795.68 C392.36,796.15 393.17,796.62 393.98,797.10 C394.79,797.58 395.60,798.07 396.42,798.56 C397.23,799.06 398.04,799.56 398.85,800.07 C399.66,800.58 400.47,801.10 401.29,801.63 C402.10,802.16 402.91,802.69 403.72,803.23 C404.53,803.78 405.34,804.33 406.16,804.88 C406.97,805.44 407.78,806.01 408.59,806.58 C409.40,807.15 410.21,807.73 411.03,808.32 C411.84,808.91 412.65,809.51 413.46,810.11 C414.27,810.72 415.09,811.33 415.90,811.95 C416.71,812.57 417.52,813.20 418.33,813.83 C419.14,814.47 419.96,815.11 420.77,815.76 C421.58,816.41 422.39,817.07 423.20,817.74 C424.01,818.40 424.83,819.08 425.64,819.76 C426.45,820.44 427.26,821.13 428.07,821.83 C428.88,822.53 429.70,823.23 430.51,823.94 C431.32,824.66 432.13,825.38 432.94,826.11 C433.76,826.83 434.57,827.57 435.38,828.31 C436.19,829.06 437.00,829.81 437.81,830.57 C438.63,831.33 439.44,832.10 440.25,832.87 C441.06,833.64 441.87,834.43 442.68,835.22 C443.50,836.01 444.31,836.81 445.12,837.61 C445.93,838.42 446.74,839.23 447.55,840.05 C448.37,840.88 449.18,841.70 449.99,842.54 C450.80,843.38 451.61,844.22 452.43,845.08 C453.24,845.93 454.05,846.79 454.86,847.66 C455.67,848.52 456.48,849.40 457.30,850.28 C458.11,851.17 458.92,852.06 459.73,852.96 C460.54,853.86 461.35,854.76 462.17,855.68 C462.98,856.59 463.79,857.51 464.60,858.44 C465.41,859.37 466.22,860.31 467.04,861.26 C467.85,862.20 468.66,863.16 469.47,864.12 C470.28,865.08 471.10,866.05 471.91,867.02 C472.72,868.00 473.53,868.98 474.34,869.98 C475.15,870.97 475.97,871.97 476.78,872.98 C477.59,873.98 478.40,875.00 479.21,876.02 C480.02,877.05 480.84,878.08 481.65,879.12 C482.46,880.15 483.27,881.20 484.08,882.25 C484.89,883.31 485.71,884.37 486.52,885.44 C487.33,886.51 488.14,887.59 488.95,888.67 C489.77,889.76 490.58,890.85 491.39,891.95 C492.20,893.05 493.01,894.16 493.82,895.28 C494.64,896.39 495.45,897.52 496.26,898.65 C497.07,899.78 497.88,900.92 498.69,902.07 C499.51,903.21 500.32,904.37 501.13,905.53 C501.94,906.69 502.75,907.86 503.56,909.04 C504.38,910.22 505.59,912.01 506.00,912.60" fill="none" stroke="#0000f2" stroke-width="4.5" stroke-linecap="butt"/>
<circle cx="119.20" cy="915.30" r="4.8" fill="#000"/>
<circle cx="174.60" cy="879.70" r="4.8" fill="#000"/>
<circle cx="229.90" cy="811.20" r="4.8" fill="#000"/>
<circle cx="340.00" cy="748.00" r="4.8" fill="#000"/>
<circle cx="395.40" cy="813.80" r="4.8" fill="#000"/>
<circle cx="506.00" cy="915.80" r="4.8" fill="#000"/>
<rect x="104.5" y="712.3" width="417.50" height="297.70" fill="none" stroke="#000" stroke-width="2.4"/>
<line x1="100.90" y1="751.90" x2="104.50" y2="751.90" stroke="#000" stroke-width="2.4"/>
<line x1="100.90" y1="834.70" x2="104.50" y2="834.70" stroke="#000" stroke-width="2.4"/>
<line x1="100.90" y1="917.20" x2="104.50" y2="917.20" stroke="#000" stroke-width="2.4"/>
<line x1="119.00" y1="1010.00" x2="119.00" y2="1013.60" stroke="#000" stroke-width="2.4"/>
<line x1="174.26" y1="1010.00" x2="174.26" y2="1013.60" stroke="#000" stroke-width="2.4"/>
<line x1="229.52" y1="1010.00" x2="229.52" y2="1013.60" stroke="#000" stroke-width="2.4"/>
<line x1="284.78" y1="1010.00" x2="284.78" y2="1013.60" stroke="#000" stroke-width="2.4"/>
<line x1="340.04" y1="1010.00" x2="340.04" y2="1013.60" stroke="#000" stroke-width="2.4"/>
<line x1="395.30" y1="1010.00" x2="395.30" y2="1013.60" stroke="#000" stroke-width="2.4"/>
<line x1="450.56" y1="1010.00" x2="450.56" y2="1013.60" stroke="#000" stroke-width="2.4"/>
<line x1="505.82" y1="1010.00" x2="505.82" y2="1013.60" stroke="#000" stroke-width="2.4"/>
<text x="79.45" y="763.22" style="font-family:&quot;Liberation Serif&quot;,serif;font-size:26.5px" fill="#000">4</text>
<text x="79.45" y="846.97" style="font-family:&quot;Liberation Serif&quot;,serif;font-size:26.5px" fill="#000">2</text>
<text x="79.45" y="929.18" style="font-family:&quot;Liberation Serif&quot;,serif;font-size:26.5px" fill="#000">0</text>
<text x="113.33" y="1049.30" style="font-family:&quot;Liberation Serif&quot;,serif;font-size:27.5px" fill="#000">0</text>
<text x="168.03" y="1049.30" style="font-family:&quot;Liberation Serif&quot;,serif;font-size:27.5px" fill="#000">5</text>
<text x="218.45" y="1049.30" style="font-family:&quot;Liberation Serif&quot;,serif;font-size:27.5px" fill="#000">10</text>
<text x="273.35" y="1049.30" style="font-family:&quot;Liberation Serif&quot;,serif;font-size:27.5px" fill="#000">15</text>
<text x="327.45" y="1049.30" style="font-family:&quot;Liberation Serif&quot;,serif;font-size:27.5px" fill="#000">20</text>
<text x="382.25" y="1049.30" style="font-family:&quot;Liberation Serif&quot;,serif;font-size:27.5px" fill="#000">25</text>
<text x="438.35" y="1049.30" style="font-family:&quot;Liberation Serif&quot;,serif;font-size:27.5px" fill="#000">30</text>
<text x="499.05" y="1049.30" style="font-family:&quot;Liberation Serif&quot;,serif;font-size:27.5px" fill="#000">35</text>
<text x="244.20" y="1088.80" style="font-family:&quot;Liberation Serif&quot;,serif;font-size:29.2px" fill="#000">Salinity (ppt)</text>
<text x="134.30" y="763.00" style="font-family:&quot;Liberation Serif&quot;,serif;font-size:27px" fill="#000">Met</text>
<text x="185.07" y="982.10" style="font-family:&quot;Liberation Serif&quot;,serif;font-style:italic;font-size:27.6925px" fill="#000">R</text>
<text x="205.80" y="968.20" style="font-family:&quot;Liberation Serif&quot;,serif;font-size:28.214999999999996px" fill="#000">2</text>
<text x="227.64" y="982.10" style="font-family:&quot;Liberation Serif&quot;,serif;font-size:27.6925px" fill="#000">=</text>
<text x="250.00" y="982.10" style="font-family:&quot;Liberation Serif&quot;,serif;font-size:27.6925px" fill="#000">0.916,</text>
<text x="332.10" y="982.10" style="font-family:&quot;Liberation Serif&quot;,serif;font-style:italic;font-size:27.6925px" fill="#000">p</text>
<text x="360.77" y="982.10" style="font-family:&quot;Liberation Serif&quot;,serif;font-size:27.6925px" fill="#000">=</text>
<text x="384.08" y="982.10" style="font-family:&quot;Liberation Serif&quot;,serif;font-size:27.6925px" fill="#000">0.0243</text>
<path d="M591.60,837.11 C592.71,836.55 596.02,834.90 598.24,833.72 C600.45,832.55 602.66,831.33 604.87,830.08 C607.09,828.83 609.30,827.53 611.51,826.21 C613.72,824.88 615.94,823.52 618.15,822.13 C620.36,820.74 622.57,819.32 624.79,817.88 C627.00,816.44 629.21,814.96 631.42,813.48 C633.64,811.99 635.85,810.48 638.06,808.95 C640.27,807.43 642.49,805.88 644.70,804.33 C646.91,802.78 649.12,801.21 651.34,799.64 C653.55,798.07 655.76,796.48 657.97,794.90 C660.19,793.32 662.40,791.73 664.61,790.15 C666.82,788.57 669.04,786.99 671.25,785.41 C673.46,783.84 675.67,782.26 677.88,780.71 C680.10,779.15 682.31,777.60 684.52,776.06 C686.73,774.53 688.95,773.01 691.16,771.51 C693.37,770.01 695.58,768.53 697.80,767.08 C700.01,765.62 702.22,764.19 704.43,762.78 C706.65,761.38 708.86,760.00 711.07,758.66 C713.28,757.32 715.50,756.01 717.71,754.74 C719.92,753.47 722.13,752.23 724.35,751.04 C726.56,749.84 728.77,748.69 730.98,747.59 C733.20,746.48 735.41,745.42 737.62,744.41 C739.83,743.41 742.05,742.45 744.26,741.55 C746.47,740.65 748.68,739.80 750.89,739.01 C753.11,738.22 755.32,737.49 757.53,736.81 C759.74,736.14 761.96,735.52 764.17,734.96 C766.38,734.40 768.59,733.90 770.81,733.47 C773.02,733.03 775.23,732.66 777.44,732.35 C779.66,732.03 781.87,731.78 784.08,731.60 C786.29,731.42 788.51,731.30 790.72,731.25 C792.93,731.19 795.14,731.21 797.36,731.29 C799.57,731.36 801.78,731.51 803.99,731.71 C806.21,731.92 808.42,732.19 810.63,732.51 C812.84,732.84 815.06,733.22 817.27,733.66 C819.48,734.10 821.69,734.60 823.91,735.14 C826.12,735.69 828.33,736.29 830.54,736.94 C832.75,737.59 834.97,738.29 837.18,739.03 C839.39,739.77 841.60,740.57 843.82,741.40 C846.03,742.23 848.24,743.11 850.45,744.03 C852.67,744.95 854.88,745.91 857.09,746.90 C859.30,747.89 861.52,748.93 863.73,749.99 C865.94,751.06 868.15,752.16 870.37,753.29 C872.58,754.42 874.79,755.59 877.00,756.78 C879.22,757.97 881.43,759.19 883.64,760.43 C885.85,761.67 888.07,762.94 890.28,764.23 C892.49,765.52 894.70,766.84 896.92,768.17 C899.13,769.49 901.34,770.85 903.55,772.21 C905.76,773.57 907.98,774.95 910.19,776.32 C912.40,777.70 914.61,779.09 916.83,780.48 C919.04,781.87 921.25,783.26 923.46,784.64 C925.68,786.03 927.89,787.41 930.10,788.78 C932.31,790.15 934.53,791.51 936.74,792.85 C938.95,794.19 941.16,795.52 943.38,796.82 C945.59,798.13 947.80,799.41 950.01,800.67 C952.23,801.92 954.44,803.15 956.65,804.34 C958.86,805.53 961.08,806.69 963.29,807.81 C965.50,808.93 967.71,810.02 969.93,811.05 C972.14,812.08 974.35,813.08 976.56,814.02 C978.78,814.96 982.09,816.24 983.20,816.68 L983.20,955.06 C982.09,953.78 978.78,949.94 976.56,947.39 C974.35,944.84 972.14,942.30 969.93,939.77 C967.71,937.23 965.50,934.71 963.29,932.20 C961.08,929.70 958.86,927.20 956.65,924.73 C954.44,922.26 952.23,919.81 950.01,917.38 C947.80,914.95 945.59,912.55 943.38,910.17 C941.16,907.80 938.95,905.45 936.74,903.14 C934.53,900.83 932.31,898.54 930.10,896.30 C927.89,894.06 925.68,891.85 923.46,889.69 C921.25,887.53 919.04,885.41 916.83,883.34 C914.61,881.27 912.40,879.24 910.19,877.26 C907.98,875.29 905.76,873.36 903.55,871.50 C901.34,869.63 899.13,867.82 896.92,866.07 C894.70,864.32 892.49,862.63 890.28,861.00 C888.07,859.37 885.85,857.80 883.64,856.29 C881.43,854.78 879.22,853.33 877.00,851.94 C874.79,850.55 872.58,849.22 870.37,847.94 C868.15,846.67 865.94,845.45 863.73,844.29 C861.52,843.13 859.30,842.03 857.09,840.98 C854.88,839.93 852.67,838.94 850.45,838.00 C848.24,837.06 846.03,836.18 843.82,835.35 C841.60,834.52 839.39,833.75 837.18,833.03 C834.97,832.30 832.75,831.63 830.54,831.02 C828.33,830.40 826.12,829.83 823.91,829.32 C821.69,828.80 819.48,828.34 817.27,827.92 C815.06,827.51 812.84,827.14 810.63,826.83 C808.42,826.51 806.21,826.24 803.99,826.02 C801.78,825.80 799.57,825.63 797.36,825.51 C795.14,825.38 792.93,825.30 790.72,825.27 C788.51,825.24 786.29,825.25 784.08,825.32 C781.87,825.38 779.66,825.48 777.44,825.64 C775.23,825.80 773.02,826.00 770.81,826.25 C768.59,826.50 766.38,826.80 764.17,827.15 C761.96,827.50 759.74,827.90 757.53,828.35 C755.32,828.80 753.11,829.29 750.89,829.84 C748.68,830.39 746.47,830.99 744.26,831.64 C742.05,832.28 739.83,832.98 737.62,833.74 C735.41,834.49 733.20,835.29 730.98,836.15 C728.77,837.00 726.56,837.91 724.35,838.87 C722.13,839.83 719.92,840.84 717.71,841.91 C715.50,842.98 713.28,844.10 711.07,845.28 C708.86,846.45 706.65,847.68 704.43,848.97 C702.22,850.25 700.01,851.59 697.80,852.99 C695.58,854.38 693.37,855.83 691.16,857.34 C688.95,858.85 686.73,860.41 684.52,862.03 C682.31,863.65 680.10,865.33 677.88,867.06 C675.67,868.79 673.46,870.57 671.25,872.41 C669.04,874.25 666.82,876.14 664.61,878.09 C662.40,880.03 660.19,882.03 657.97,884.08 C655.76,886.13 653.55,888.24 651.34,890.39 C649.12,892.54 646.91,894.75 644.70,897.01 C642.49,899.26 640.27,901.57 638.06,903.92 C635.85,906.28 633.64,908.68 631.42,911.14 C629.21,913.59 627.00,916.10 624.79,918.65 C622.57,921.20 620.36,923.79 618.15,926.44 C615.94,929.08 613.72,931.78 611.51,934.52 C609.30,937.25 607.09,940.04 604.87,942.87 C602.66,945.70 600.45,948.57 598.24,951.49 C596.02,954.41 592.71,958.90 591.60,960.38 Z" fill="#e8e9ea"/>
<path d="M591.80,928.90 C592.21,928.30 593.44,926.48 594.25,925.28 C595.07,924.07 595.89,922.88 596.71,921.69 C597.53,920.51 598.34,919.33 599.16,918.16 C599.98,916.99 600.80,915.82 601.62,914.67 C602.43,913.51 603.25,912.36 604.07,911.22 C604.89,910.08 605.71,908.94 606.52,907.82 C607.34,906.69 608.16,905.57 608.98,904.46 C609.80,903.35 610.61,902.24 611.43,901.14 C612.25,900.05 613.07,898.96 613.89,897.87 C614.70,896.79 615.52,895.72 616.34,894.65 C617.16,893.58 617.98,892.52 618.79,891.47 C619.61,890.42 620.43,889.37 621.25,888.33 C622.07,887.29 622.89,886.26 623.70,885.24 C624.52,884.22 625.34,883.20 626.16,882.19 C626.98,881.18 627.79,880.18 628.61,879.19 C629.43,878.20 630.25,877.21 631.07,876.23 C631.88,875.25 632.70,874.28 633.52,873.32 C634.34,872.35 635.16,871.40 635.97,870.45 C636.79,869.50 637.61,868.56 638.43,867.62 C639.25,866.69 640.06,865.76 640.88,864.84 C641.70,863.92 642.52,863.01 643.34,862.11 C644.15,861.20 644.97,860.30 645.79,859.41 C646.61,858.52 647.43,857.64 648.24,856.77 C649.06,855.89 649.88,855.02 650.70,854.16 C651.52,853.30 652.33,852.45 653.15,851.60 C653.97,850.76 654.79,849.92 655.61,849.09 C656.42,848.26 657.24,847.44 658.06,846.62 C658.88,845.80 659.70,845.00 660.51,844.19 C661.33,843.39 662.15,842.60 662.97,841.81 C663.79,841.03 664.60,840.25 665.42,839.48 C666.24,838.71 667.06,837.94 667.88,837.18 C668.69,836.43 669.51,835.68 670.33,834.94 C671.15,834.20 671.97,833.46 672.78,832.73 C673.60,832.01 674.42,831.29 675.24,830.58 C676.06,829.86 676.88,829.16 677.69,828.46 C678.51,827.76 679.33,827.07 680.15,826.39 C680.97,825.71 681.78,825.03 682.60,824.37 C683.42,823.70 684.24,823.04 685.06,822.38 C685.87,821.73 686.69,821.09 687.51,820.45 C688.33,819.81 689.15,819.18 689.96,818.56 C690.78,817.93 691.60,817.32 692.42,816.71 C693.24,816.10 694.05,815.50 694.87,814.90 C695.69,814.31 696.51,813.72 697.33,813.15 C698.14,812.57 698.96,811.99 699.78,811.43 C700.60,810.87 701.42,810.31 702.23,809.76 C703.05,809.21 703.87,808.67 704.69,808.13 C705.51,807.60 706.32,807.07 707.14,806.55 C707.96,806.03 708.78,805.52 709.60,805.02 C710.41,804.51 711.23,804.01 712.05,803.52 C712.87,803.03 713.69,802.55 714.50,802.08 C715.32,801.60 716.14,801.13 716.96,800.67 C717.78,800.21 718.59,799.76 719.41,799.31 C720.23,798.87 721.05,798.43 721.87,798.00 C722.68,797.57 723.50,797.14 724.32,796.73 C725.14,796.31 725.96,795.90 726.77,795.50 C727.59,795.10 728.41,794.71 729.23,794.32 C730.05,793.94 730.86,793.56 731.68,793.18 C732.50,792.81 733.32,792.45 734.14,792.09 C734.96,791.74 735.77,791.39 736.59,791.04 C737.41,790.70 738.23,790.37 739.05,790.04 C739.86,789.71 740.68,789.39 741.50,789.08 C742.32,788.77 743.14,788.46 743.95,788.17 C744.77,787.87 745.59,787.58 746.41,787.30 C747.23,787.01 748.04,786.74 748.86,786.47 C749.68,786.20 750.50,785.94 751.32,785.69 C752.13,785.44 752.95,785.19 753.77,784.95 C754.59,784.71 755.41,784.48 756.22,784.26 C757.04,784.04 757.86,783.82 758.68,783.61 C759.50,783.40 760.31,783.20 761.13,783.01 C761.95,782.81 762.77,782.63 763.59,782.45 C764.40,782.27 765.22,782.10 766.04,781.93 C766.86,781.77 767.68,781.61 768.49,781.46 C769.31,781.31 770.13,781.17 770.95,781.04 C771.77,780.90 772.58,780.77 773.40,780.65 C774.22,780.53 775.04,780.42 775.86,780.32 C776.67,780.21 777.49,780.11 778.31,780.02 C779.13,779.93 779.95,779.85 780.76,779.78 C781.58,779.70 782.40,779.63 783.22,779.57 C784.04,779.51 784.85,779.46 785.67,779.41 C786.49,779.37 787.31,779.33 788.13,779.30 C788.95,779.27 789.76,779.24 790.58,779.23 C791.40,779.21 792.22,779.20 793.04,779.20 C793.85,779.20 794.67,779.20 795.49,779.22 C796.31,779.23 797.13,779.25 797.94,779.28 C798.76,779.31 799.58,779.34 800.40,779.39 C801.22,779.43 802.03,779.48 802.85,779.54 C803.67,779.60 804.49,779.66 805.31,779.74 C806.12,779.81 806.94,779.89 807.76,779.98 C808.58,780.06 809.40,780.16 810.21,780.26 C811.03,780.36 811.85,780.47 812.67,780.59 C813.49,780.71 814.30,780.83 815.12,780.96 C815.94,781.10 816.76,781.23 817.58,781.38 C818.39,781.53 819.21,781.68 820.03,781.84 C820.85,782.01 821.67,782.17 822.48,782.35 C823.30,782.53 824.12,782.71 824.94,782.90 C825.76,783.09 826.57,783.29 827.39,783.50 C828.21,783.70 829.03,783.92 829.85,784.14 C830.66,784.36 831.48,784.59 832.30,784.82 C833.12,785.06 833.94,785.30 834.75,785.55 C835.57,785.80 836.39,786.06 837.21,786.33 C838.03,786.59 838.84,786.86 839.66,787.14 C840.48,787.42 841.30,787.71 842.12,788.01 C842.94,788.30 843.75,788.60 844.57,788.91 C845.39,789.22 846.21,789.54 847.03,789.86 C847.84,790.19 848.66,790.52 849.48,790.86 C850.30,791.20 851.12,791.54 851.93,791.90 C852.75,792.25 853.57,792.61 854.39,792.98 C855.21,793.35 856.02,793.73 856.84,794.11 C857.66,794.50 858.48,794.89 859.30,795.29 C860.11,795.68 860.93,796.09 861.75,796.50 C862.57,796.92 863.39,797.34 864.20,797.77 C865.02,798.19 865.84,798.63 866.66,799.07 C867.48,799.52 868.29,799.97 869.11,800.42 C869.93,800.88 870.75,801.35 871.57,801.82 C872.38,802.29 873.20,802.77 874.02,803.26 C874.84,803.75 875.66,804.24 876.47,804.74 C877.29,805.25 878.11,805.75 878.93,806.27 C879.75,806.79 880.56,807.31 881.38,807.85 C882.20,808.38 883.02,808.92 883.84,809.46 C884.65,810.01 885.47,810.56 886.29,811.12 C887.11,811.69 887.93,812.26 888.74,812.83 C889.56,813.41 890.38,813.99 891.20,814.58 C892.02,815.17 892.83,815.77 893.65,816.38 C894.47,816.98 895.29,817.60 896.11,818.22 C896.92,818.84 897.74,819.47 898.56,820.10 C899.38,820.74 900.20,821.38 901.02,822.03 C901.83,822.68 902.65,823.34 903.47,824.00 C904.29,824.67 905.11,825.34 905.92,826.02 C906.74,826.70 907.56,827.39 908.38,828.08 C909.20,828.78 910.01,829.48 910.83,830.19 C911.65,830.90 912.47,831.62 913.29,832.34 C914.10,833.06 914.92,833.80 915.74,834.54 C916.56,835.27 917.38,836.02 918.19,836.77 C919.01,837.53 919.83,838.29 920.65,839.06 C921.47,839.83 922.28,840.60 923.10,841.39 C923.92,842.17 924.74,842.96 925.56,843.76 C926.37,844.56 927.19,845.36 928.01,846.18 C928.83,846.99 929.65,847.81 930.46,848.64 C931.28,849.47 932.10,850.30 932.92,851.15 C933.74,851.99 934.55,852.84 935.37,853.70 C936.19,854.55 937.01,855.42 937.83,856.29 C938.64,857.16 939.46,858.04 940.28,858.93 C941.10,859.82 941.92,860.71 942.73,861.61 C943.55,862.52 944.37,863.43 945.19,864.34 C946.01,865.26 946.82,866.18 947.64,867.12 C948.46,868.05 949.28,868.99 950.10,869.93 C950.91,870.88 951.73,871.83 952.55,872.79 C953.37,873.76 954.19,874.72 955.01,875.70 C955.82,876.68 956.64,877.66 957.46,878.65 C958.28,879.64 959.10,880.64 959.91,881.65 C960.73,882.65 961.55,883.67 962.37,884.69 C963.19,885.71 964.00,886.73 964.82,887.77 C965.64,888.80 966.46,889.85 967.28,890.90 C968.09,891.95 968.91,893.01 969.73,894.07 C970.55,895.14 971.37,896.21 972.18,897.29 C973.00,898.37 973.82,899.45 974.64,900.55 C975.46,901.64 976.27,902.75 977.09,903.85 C977.91,904.96 978.73,906.08 979.55,907.21 C980.36,908.33 981.59,910.03 982.00,910.60" fill="none" stroke="#0000f2" stroke-width="4.5" stroke-linecap="butt"/>
<circle cx="592.40" cy="915.80" r="4.8" fill="#000"/>
<circle cx="647.70" cy="871.00" r="4.8" fill="#000"/>
<circle cx="704.10" cy="823.00" r="4.8" fill="#000"/>
<circle cx="815.00" cy="744.50" r="4.8" fill="#000"/>
<circle cx="870.40" cy="821.70" r="4.8" fill="#000"/>
<circle cx="981.80" cy="912.10" r="4.8" fill="#000"/>
<rect x="576.9" y="711.5" width="420.10" height="302.00" fill="none" stroke="#000" stroke-width="2.4"/>
<line x1="573.30" y1="737.40" x2="576.90" y2="737.40" stroke="#000" stroke-width="2.4"/>
<line x1="573.30" y1="830.00" x2="576.90" y2="830.00" stroke="#000" stroke-width="2.4"/>
<line x1="573.30" y1="922.10" x2="576.90" y2="922.10" stroke="#000" stroke-width="2.4"/>
<line x1="592.80" y1="1013.50" x2="592.80" y2="1017.10" stroke="#000" stroke-width="2.4"/>
<line x1="648.34" y1="1013.50" x2="648.34" y2="1017.10" stroke="#000" stroke-width="2.4"/>
<line x1="703.88" y1="1013.50" x2="703.88" y2="1017.10" stroke="#000" stroke-width="2.4"/>
<line x1="759.42" y1="1013.50" x2="759.42" y2="1017.10" stroke="#000" stroke-width="2.4"/>
<line x1="814.96" y1="1013.50" x2="814.96" y2="1017.10" stroke="#000" stroke-width="2.4"/>
<line x1="870.50" y1="1013.50" x2="870.50" y2="1017.10" stroke="#000" stroke-width="2.4"/>
<line x1="926.04" y1="1013.50" x2="926.04" y2="1017.10" stroke="#000" stroke-width="2.4"/>
<line x1="981.58" y1="1013.50" x2="981.58" y2="1017.10" stroke="#000" stroke-width="2.4"/>
<text x="534.88" y="749.13" style="font-family:&quot;Liberation Serif&quot;,serif;font-size:26.5px" fill="#000">0.8</text>
<text x="534.88" y="841.63" style="font-family:&quot;Liberation Serif&quot;,serif;font-size:26.5px" fill="#000">0.4</text>
<text x="534.88" y="934.63" style="font-family:&quot;Liberation Serif&quot;,serif;font-size:26.5px" fill="#000">0.0</text>
<text x="586.23" y="1054.50" style="font-family:&quot;Liberation Serif&quot;,serif;font-size:27.5px" fill="#000">0</text>
<text x="642.42" y="1054.50" style="font-family:&quot;Liberation Serif&quot;,serif;font-size:27.5px" fill="#000">5</text>
<text x="692.95" y="1054.50" style="font-family:&quot;Liberation Serif&quot;,serif;font-size:27.5px" fill="#000">10</text>
<text x="747.65" y="1054.50" style="font-family:&quot;Liberation Serif&quot;,serif;font-size:27.5px" fill="#000">15</text>
<text x="802.95" y="1054.50" style="font-family:&quot;Liberation Serif&quot;,serif;font-size:27.5px" fill="#000">20</text>
<text x="857.85" y="1054.50" style="font-family:&quot;Liberation Serif&quot;,serif;font-size:27.5px" fill="#000">25</text>
<text x="913.45" y="1054.50" style="font-family:&quot;Liberation Serif&quot;,serif;font-size:27.5px" fill="#000">30</text>
<text x="968.95" y="1054.50" style="font-family:&quot;Liberation Serif&quot;,serif;font-size:27.5px" fill="#000">35</text>
<text x="733.00" y="1090.30" style="font-family:&quot;Liberation Serif&quot;,serif;font-size:29.2px" fill="#000">Salinity (ppt)</text>
<text x="603.20" y="759.00" style="font-family:&quot;Liberation Serif&quot;,serif;font-size:27px" fill="#000">Val</text>
<text x="661.37" y="986.10" style="font-family:&quot;Liberation Serif&quot;,serif;font-style:italic;font-size:27.6925px" fill="#000">R</text>
<text x="682.10" y="972.20" style="font-family:&quot;Liberation Serif&quot;,serif;font-size:28.214999999999996px" fill="#000">2</text>
<text x="703.94" y="986.10" style="font-family:&quot;Liberation Serif&quot;,serif;font-size:27.6925px" fill="#000">=</text>
<text x="726.30" y="986.10" style="font-family:&quot;Liberation Serif&quot;,serif;font-size:27.6925px" fill="#000">0.891,</text>
<text x="808.40" y="986.10" style="font-family:&quot;Liberation Serif&quot;,serif;font-style:italic;font-size:27.6925px" fill="#000">p</text>
<text x="837.07" y="986.10" style="font-family:&quot;Liberation Serif&quot;,serif;font-size:27.6925px" fill="#000">=</text>
<text x="860.38" y="986.10" style="font-family:&quot;Liberation Serif&quot;,serif;font-size:27.6925px" fill="#000">0.0361</text>
<path d="M1057.40,827.63 C1058.50,827.19 1061.79,825.89 1063.99,824.96 C1066.18,824.03 1068.38,823.05 1070.57,822.04 C1072.77,821.03 1074.96,819.98 1077.16,818.90 C1079.35,817.82 1081.55,816.71 1083.75,815.56 C1085.94,814.42 1088.14,813.24 1090.33,812.05 C1092.53,810.85 1094.72,809.62 1096.92,808.38 C1099.11,807.13 1101.31,805.86 1103.51,804.58 C1105.70,803.30 1107.90,801.99 1110.09,800.68 C1112.29,799.36 1114.48,798.03 1116.68,796.69 C1118.87,795.35 1121.07,794.00 1123.26,792.64 C1125.46,791.29 1127.66,789.92 1129.85,788.56 C1132.05,787.19 1134.24,785.82 1136.44,784.46 C1138.63,783.10 1140.83,781.73 1143.02,780.37 C1145.22,779.02 1147.41,777.66 1149.61,776.32 C1151.81,774.98 1154.00,773.64 1156.20,772.32 C1158.39,771.00 1160.59,769.69 1162.78,768.41 C1164.98,767.12 1167.17,765.84 1169.37,764.59 C1171.56,763.34 1173.76,762.11 1175.96,760.90 C1178.15,759.70 1180.35,758.52 1182.54,757.37 C1184.74,756.22 1186.93,755.09 1189.13,754.00 C1191.32,752.91 1193.52,751.85 1195.72,750.84 C1197.91,749.82 1200.11,748.83 1202.30,747.89 C1204.50,746.95 1206.69,746.04 1208.89,745.18 C1211.08,744.33 1213.28,743.51 1215.47,742.74 C1217.67,741.98 1219.87,741.26 1222.06,740.60 C1224.26,739.93 1226.45,739.32 1228.65,738.76 C1230.84,738.20 1233.04,737.70 1235.23,737.26 C1237.43,736.82 1239.62,736.44 1241.82,736.12 C1244.02,735.80 1246.21,735.55 1248.41,735.36 C1250.60,735.18 1252.80,735.06 1254.99,735.01 C1257.19,734.97 1259.38,734.99 1261.58,735.09 C1263.78,735.18 1265.97,735.35 1268.17,735.58 C1270.36,735.82 1272.56,736.12 1274.75,736.47 C1276.95,736.83 1279.14,737.25 1281.34,737.73 C1283.53,738.20 1285.73,738.74 1287.93,739.32 C1290.12,739.90 1292.32,740.54 1294.51,741.22 C1296.71,741.90 1298.90,742.63 1301.10,743.40 C1303.29,744.17 1305.49,744.99 1307.68,745.84 C1309.88,746.68 1312.08,747.57 1314.27,748.49 C1316.47,749.41 1318.66,750.37 1320.86,751.35 C1323.05,752.33 1325.25,753.34 1327.44,754.37 C1329.64,755.41 1331.84,756.47 1334.03,757.54 C1336.23,758.61 1338.42,759.71 1340.62,760.82 C1342.81,761.92 1345.01,763.05 1347.20,764.18 C1349.40,765.31 1351.59,766.45 1353.79,767.60 C1355.99,768.74 1358.18,769.90 1360.38,771.05 C1362.57,772.20 1364.77,773.35 1366.96,774.50 C1369.16,775.64 1371.35,776.79 1373.55,777.92 C1375.74,779.05 1377.94,780.17 1380.14,781.28 C1382.33,782.39 1384.53,783.49 1386.72,784.57 C1388.92,785.64 1391.11,786.70 1393.31,787.74 C1395.50,788.77 1397.70,789.79 1399.89,790.77 C1402.09,791.75 1404.29,792.71 1406.48,793.63 C1408.68,794.56 1410.87,795.45 1413.07,796.30 C1415.26,797.15 1417.46,797.97 1419.65,798.75 C1421.85,799.52 1424.05,800.26 1426.24,800.94 C1428.44,801.63 1430.63,802.27 1432.83,802.86 C1435.02,803.44 1437.22,803.98 1439.41,804.46 C1441.61,804.94 1444.90,805.52 1446.00,805.74 L1446.00,942.03 C1444.90,940.91 1441.61,937.55 1439.41,935.33 C1437.22,933.11 1435.02,930.89 1432.83,928.70 C1430.63,926.50 1428.44,924.32 1426.24,922.15 C1424.05,919.99 1421.85,917.84 1419.65,915.71 C1417.46,913.58 1415.26,911.47 1413.07,909.38 C1410.87,907.30 1408.68,905.23 1406.48,903.20 C1404.29,901.16 1402.09,899.15 1399.89,897.16 C1397.70,895.18 1395.50,893.22 1393.31,891.30 C1391.11,889.38 1388.92,887.48 1386.72,885.63 C1384.53,883.77 1382.33,881.94 1380.14,880.16 C1377.94,878.37 1375.74,876.62 1373.55,874.91 C1371.35,873.20 1369.16,871.52 1366.96,869.90 C1364.77,868.27 1362.57,866.68 1360.38,865.14 C1358.18,863.60 1355.99,862.11 1353.79,860.66 C1351.59,859.21 1349.40,857.80 1347.20,856.45 C1345.01,855.09 1342.81,853.78 1340.62,852.52 C1338.42,851.25 1336.23,850.04 1334.03,848.87 C1331.84,847.70 1329.64,846.58 1327.44,845.51 C1325.25,844.44 1323.05,843.41 1320.86,842.43 C1318.66,841.46 1316.47,840.53 1314.27,839.65 C1312.08,838.78 1309.88,837.95 1307.68,837.17 C1305.49,836.39 1303.29,835.66 1301.10,834.98 C1298.90,834.30 1296.71,833.67 1294.51,833.08 C1292.32,832.49 1290.12,831.95 1287.93,831.46 C1285.73,830.96 1283.53,830.51 1281.34,830.11 C1279.14,829.70 1276.95,829.34 1274.75,829.02 C1272.56,828.70 1270.36,828.42 1268.17,828.18 C1265.97,827.94 1263.78,827.75 1261.58,827.59 C1259.38,827.43 1257.19,827.31 1254.99,827.22 C1252.80,827.14 1250.60,827.10 1248.41,827.09 C1246.21,827.09 1244.02,827.12 1241.82,827.19 C1239.62,827.27 1237.43,827.38 1235.23,827.53 C1233.04,827.69 1230.84,827.88 1228.65,828.12 C1226.45,828.36 1224.26,828.63 1222.06,828.96 C1219.87,829.28 1217.67,829.64 1215.47,830.05 C1213.28,830.46 1211.08,830.91 1208.89,831.40 C1206.69,831.90 1204.50,832.44 1202.30,833.02 C1200.11,833.61 1197.91,834.24 1195.72,834.92 C1193.52,835.59 1191.32,836.32 1189.13,837.09 C1186.93,837.86 1184.74,838.68 1182.54,839.54 C1180.35,840.41 1178.15,841.32 1175.96,842.29 C1173.76,843.25 1171.56,844.26 1169.37,845.32 C1167.17,846.39 1164.98,847.50 1162.78,848.66 C1160.59,849.82 1158.39,851.04 1156.20,852.30 C1154.00,853.57 1151.81,854.88 1149.61,856.25 C1147.41,857.62 1145.22,859.05 1143.02,860.52 C1140.83,862.00 1138.63,863.53 1136.44,865.11 C1134.24,866.70 1132.05,868.33 1129.85,870.03 C1127.66,871.72 1125.46,873.47 1123.26,875.28 C1121.07,877.08 1118.87,878.94 1116.68,880.86 C1114.48,882.78 1112.29,884.76 1110.09,886.79 C1107.90,888.83 1105.70,890.92 1103.51,893.07 C1101.31,895.22 1099.11,897.43 1096.92,899.70 C1094.72,901.97 1092.53,904.30 1090.33,906.69 C1088.14,909.09 1085.94,911.54 1083.75,914.05 C1081.55,916.57 1079.35,919.14 1077.16,921.78 C1074.96,924.42 1072.77,927.12 1070.57,929.88 C1068.38,932.64 1066.18,935.47 1063.99,938.36 C1061.79,941.26 1058.50,945.76 1057.40,947.23 Z" fill="#e8e9ea"/>
<path d="M1058.30,921.00 C1058.71,920.45 1059.92,918.78 1060.73,917.68 C1061.54,916.59 1062.36,915.49 1063.17,914.41 C1063.98,913.32 1064.79,912.24 1065.60,911.17 C1066.41,910.10 1067.22,909.04 1068.03,907.98 C1068.84,906.92 1069.66,905.87 1070.47,904.82 C1071.28,903.78 1072.09,902.74 1072.90,901.71 C1073.71,900.68 1074.52,899.65 1075.33,898.63 C1076.14,897.62 1076.96,896.60 1077.77,895.60 C1078.58,894.60 1079.39,893.60 1080.20,892.61 C1081.01,891.62 1081.82,890.63 1082.63,889.65 C1083.44,888.68 1084.26,887.70 1085.07,886.74 C1085.88,885.78 1086.69,884.82 1087.50,883.87 C1088.31,882.92 1089.12,881.97 1089.93,881.03 C1090.74,880.10 1091.56,879.17 1092.37,878.24 C1093.18,877.32 1093.99,876.40 1094.80,875.49 C1095.61,874.58 1096.42,873.68 1097.23,872.78 C1098.04,871.88 1098.86,870.99 1099.67,870.11 C1100.48,869.22 1101.29,868.35 1102.10,867.48 C1102.91,866.61 1103.72,865.74 1104.53,864.89 C1105.34,864.03 1106.16,863.18 1106.97,862.34 C1107.78,861.49 1108.59,860.66 1109.40,859.83 C1110.21,859.00 1111.02,858.17 1111.83,857.36 C1112.64,856.54 1113.46,855.73 1114.27,854.93 C1115.08,854.12 1115.89,853.33 1116.70,852.54 C1117.51,851.75 1118.32,850.96 1119.13,850.19 C1119.94,849.41 1120.76,848.64 1121.57,847.88 C1122.38,847.12 1123.19,846.36 1124.00,845.61 C1124.81,844.86 1125.62,844.12 1126.43,843.38 C1127.24,842.65 1128.06,841.92 1128.87,841.20 C1129.68,840.47 1130.49,839.76 1131.30,839.05 C1132.11,838.34 1132.92,837.64 1133.73,836.94 C1134.54,836.25 1135.36,835.56 1136.17,834.87 C1136.98,834.19 1137.79,833.52 1138.60,832.85 C1139.41,832.18 1140.22,831.52 1141.03,830.86 C1141.84,830.21 1142.66,829.56 1143.47,828.92 C1144.28,828.27 1145.09,827.64 1145.90,827.01 C1146.71,826.38 1147.52,825.76 1148.33,825.14 C1149.14,824.53 1149.96,823.92 1150.77,823.32 C1151.58,822.72 1152.39,822.12 1153.20,821.53 C1154.01,820.95 1154.82,820.36 1155.63,819.79 C1156.44,819.22 1157.26,818.65 1158.07,818.09 C1158.88,817.52 1159.69,816.97 1160.50,816.42 C1161.31,815.87 1162.12,815.33 1162.93,814.80 C1163.74,814.26 1164.56,813.74 1165.37,813.21 C1166.18,812.69 1166.99,812.18 1167.80,811.67 C1168.61,811.16 1169.42,810.66 1170.23,810.17 C1171.04,809.67 1171.86,809.19 1172.67,808.71 C1173.48,808.23 1174.29,807.75 1175.10,807.28 C1175.91,806.82 1176.72,806.36 1177.53,805.90 C1178.34,805.45 1179.16,805.00 1179.97,804.56 C1180.78,804.12 1181.59,803.69 1182.40,803.26 C1183.21,802.83 1184.02,802.41 1184.83,802.00 C1185.64,801.59 1186.46,801.18 1187.27,800.78 C1188.08,800.38 1188.89,799.98 1189.70,799.60 C1190.51,799.21 1191.32,798.83 1192.13,798.46 C1192.94,798.08 1193.76,797.72 1194.57,797.36 C1195.38,797.00 1196.19,796.65 1197.00,796.30 C1197.81,795.95 1198.62,795.61 1199.43,795.28 C1200.24,794.95 1201.06,794.62 1201.87,794.30 C1202.68,793.98 1203.49,793.67 1204.30,793.36 C1205.11,793.06 1205.92,792.76 1206.73,792.46 C1207.54,792.17 1208.36,791.88 1209.17,791.61 C1209.98,791.33 1210.79,791.05 1211.60,790.79 C1212.41,790.52 1213.22,790.26 1214.03,790.01 C1214.84,789.76 1215.66,789.51 1216.47,789.27 C1217.28,789.03 1218.09,788.80 1218.90,788.58 C1219.71,788.35 1220.52,788.13 1221.33,787.92 C1222.14,787.71 1222.96,787.50 1223.77,787.30 C1224.58,787.10 1225.39,786.91 1226.20,786.73 C1227.01,786.54 1227.82,786.36 1228.63,786.19 C1229.44,786.02 1230.26,785.86 1231.07,785.70 C1231.88,785.54 1232.69,785.39 1233.50,785.24 C1234.31,785.10 1235.12,784.96 1235.93,784.83 C1236.74,784.70 1237.56,784.57 1238.37,784.45 C1239.18,784.33 1239.99,784.22 1240.80,784.12 C1241.61,784.01 1242.42,783.92 1243.23,783.82 C1244.04,783.73 1244.86,783.65 1245.67,783.57 C1246.48,783.49 1247.29,783.42 1248.10,783.36 C1248.91,783.29 1249.72,783.24 1250.53,783.18 C1251.34,783.13 1252.16,783.09 1252.97,783.05 C1253.78,783.01 1254.59,782.98 1255.40,782.96 C1256.21,782.94 1257.02,782.92 1257.83,782.91 C1258.64,782.90 1259.46,782.89 1260.27,782.90 C1261.08,782.90 1261.89,782.91 1262.70,782.92 C1263.51,782.94 1264.32,782.96 1265.13,782.99 C1265.94,783.02 1266.76,783.06 1267.57,783.10 C1268.38,783.14 1269.19,783.19 1270.00,783.25 C1270.81,783.31 1271.62,783.37 1272.43,783.44 C1273.24,783.51 1274.06,783.59 1274.87,783.67 C1275.68,783.75 1276.49,783.84 1277.30,783.94 C1278.11,784.04 1278.92,784.14 1279.73,784.25 C1280.54,784.36 1281.36,784.48 1282.17,784.60 C1282.98,784.73 1283.79,784.86 1284.60,784.99 C1285.41,785.13 1286.22,785.27 1287.03,785.42 C1287.84,785.58 1288.66,785.73 1289.47,785.90 C1290.28,786.06 1291.09,786.23 1291.90,786.41 C1292.71,786.59 1293.52,786.77 1294.33,786.96 C1295.14,787.15 1295.96,787.35 1296.77,787.55 C1297.58,787.76 1298.39,787.97 1299.20,788.19 C1300.01,788.40 1300.82,788.63 1301.63,788.86 C1302.44,789.09 1303.26,789.33 1304.07,789.57 C1304.88,789.82 1305.69,790.07 1306.50,790.33 C1307.31,790.58 1308.12,790.85 1308.93,791.12 C1309.74,791.39 1310.56,791.67 1311.37,791.96 C1312.18,792.24 1312.99,792.53 1313.80,792.83 C1314.61,793.13 1315.42,793.43 1316.23,793.74 C1317.04,794.06 1317.86,794.38 1318.67,794.70 C1319.48,795.03 1320.29,795.36 1321.10,795.70 C1321.91,796.03 1322.72,796.38 1323.53,796.73 C1324.34,797.08 1325.16,797.44 1325.97,797.81 C1326.78,798.17 1327.59,798.55 1328.40,798.92 C1329.21,799.30 1330.02,799.69 1330.83,800.08 C1331.64,800.47 1332.46,800.87 1333.27,801.28 C1334.08,801.68 1334.89,802.10 1335.70,802.52 C1336.51,802.93 1337.32,803.36 1338.13,803.79 C1338.94,804.23 1339.76,804.66 1340.57,805.11 C1341.38,805.56 1342.19,806.01 1343.00,806.47 C1343.81,806.93 1344.62,807.39 1345.43,807.87 C1346.24,808.34 1347.06,808.82 1347.87,809.31 C1348.68,809.79 1349.49,810.29 1350.30,810.79 C1351.11,811.29 1351.92,811.79 1352.73,812.30 C1353.54,812.82 1354.36,813.34 1355.17,813.86 C1355.98,814.39 1356.79,814.92 1357.60,815.46 C1358.41,816.00 1359.22,816.55 1360.03,817.10 C1360.84,817.66 1361.66,818.22 1362.47,818.79 C1363.28,819.35 1364.09,819.93 1364.90,820.51 C1365.71,821.09 1366.52,821.67 1367.33,822.27 C1368.14,822.86 1368.96,823.46 1369.77,824.07 C1370.58,824.68 1371.39,825.29 1372.20,825.91 C1373.01,826.53 1373.82,827.16 1374.63,827.79 C1375.44,828.43 1376.26,829.07 1377.07,829.71 C1377.88,830.36 1378.69,831.02 1379.50,831.68 C1380.31,832.34 1381.12,833.01 1381.93,833.68 C1382.74,834.35 1383.56,835.04 1384.37,835.72 C1385.18,836.41 1385.99,837.11 1386.80,837.81 C1387.61,838.51 1388.42,839.22 1389.23,839.93 C1390.04,840.65 1390.86,841.37 1391.67,842.10 C1392.48,842.82 1393.29,843.56 1394.10,844.30 C1394.91,845.04 1395.72,845.79 1396.53,846.54 C1397.34,847.30 1398.16,848.06 1398.97,848.83 C1399.78,849.60 1400.59,850.37 1401.40,851.15 C1402.21,851.94 1403.02,852.72 1403.83,853.52 C1404.64,854.32 1405.46,855.12 1406.27,855.93 C1407.08,856.73 1407.89,857.55 1408.70,858.37 C1409.51,859.19 1410.32,860.02 1411.13,860.86 C1411.94,861.69 1412.76,862.54 1413.57,863.39 C1414.38,864.23 1415.19,865.09 1416.00,865.95 C1416.81,866.81 1417.62,867.68 1418.43,868.56 C1419.24,869.44 1420.06,870.32 1420.87,871.21 C1421.68,872.10 1422.49,872.99 1423.30,873.90 C1424.11,874.80 1424.92,875.71 1425.73,876.62 C1426.54,877.54 1427.36,878.46 1428.17,879.39 C1428.98,880.32 1429.79,881.26 1430.60,882.20 C1431.41,883.14 1432.22,884.09 1433.03,885.05 C1433.84,886.01 1434.66,886.97 1435.47,887.94 C1436.28,888.91 1437.09,889.89 1437.90,890.87 C1438.71,891.85 1439.52,892.84 1440.33,893.84 C1441.14,894.84 1441.96,895.84 1442.77,896.85 C1443.58,897.86 1444.79,899.39 1445.20,899.90" fill="none" stroke="#0000f2" stroke-width="4.5" stroke-linecap="butt"/>
<circle cx="1057.90" cy="910.00" r="4.8" fill="#000"/>
<circle cx="1113.20" cy="862.60" r="4.8" fill="#000"/>
<circle cx="1169.10" cy="831.00" r="4.8" fill="#000"/>
<circle cx="1279.20" cy="746.10" r="4.8" fill="#000"/>
<circle cx="1334.60" cy="823.60" r="4.8" fill="#000"/>
<circle cx="1444.70" cy="903.40" r="4.8" fill="#000"/>
<rect x="1042.2" y="712.7" width="418.80" height="296.30" fill="none" stroke="#000" stroke-width="2.4"/>
<line x1="1038.60" y1="717.80" x2="1042.20" y2="717.80" stroke="#000" stroke-width="2.4"/>
<line x1="1038.60" y1="783.20" x2="1042.20" y2="783.20" stroke="#000" stroke-width="2.4"/>
<line x1="1038.60" y1="847.80" x2="1042.20" y2="847.80" stroke="#000" stroke-width="2.4"/>
<line x1="1038.60" y1="912.60" x2="1042.20" y2="912.60" stroke="#000" stroke-width="2.4"/>
<line x1="1058.10" y1="1009.00" x2="1058.10" y2="1012.60" stroke="#000" stroke-width="2.4"/>
<line x1="1113.40" y1="1009.00" x2="1113.40" y2="1012.60" stroke="#000" stroke-width="2.4"/>
<line x1="1168.70" y1="1009.00" x2="1168.70" y2="1012.60" stroke="#000" stroke-width="2.4"/>
<line x1="1224.00" y1="1009.00" x2="1224.00" y2="1012.60" stroke="#000" stroke-width="2.4"/>
<line x1="1279.30" y1="1009.00" x2="1279.30" y2="1012.60" stroke="#000" stroke-width="2.4"/>
<line x1="1334.60" y1="1009.00" x2="1334.60" y2="1012.60" stroke="#000" stroke-width="2.4"/>
<line x1="1389.90" y1="1009.00" x2="1389.90" y2="1012.60" stroke="#000" stroke-width="2.4"/>
<line x1="1445.20" y1="1009.00" x2="1445.20" y2="1012.60" stroke="#000" stroke-width="2.4"/>
<text x="1018.55" y="731.64" style="font-family:&quot;Liberation Serif&quot;,serif;font-size:26.5px" fill="#000">6</text>
<text x="1018.55" y="796.42" style="font-family:&quot;Liberation Serif&quot;,serif;font-size:26.5px" fill="#000">4</text>
<text x="1018.55" y="861.17" style="font-family:&quot;Liberation Serif&quot;,serif;font-size:26.5px" fill="#000">2</text>
<text x="1018.55" y="924.68" style="font-family:&quot;Liberation Serif&quot;,serif;font-size:26.5px" fill="#000">0</text>
<text x="1051.83" y="1049.20" style="font-family:&quot;Liberation Serif&quot;,serif;font-size:27.5px" fill="#000">0</text>
<text x="1107.83" y="1049.20" style="font-family:&quot;Liberation Serif&quot;,serif;font-size:27.5px" fill="#000">5</text>
<text x="1157.25" y="1049.20" style="font-family:&quot;Liberation Serif&quot;,serif;font-size:27.5px" fill="#000">10</text>
<text x="1212.25" y="1049.20" style="font-family:&quot;Liberation Serif&quot;,serif;font-size:27.5px" fill="#000">15</text>
<text x="1266.55" y="1049.20" style="font-family:&quot;Liberation Serif&quot;,serif;font-size:27.5px" fill="#000">20</text>
<text x="1321.45" y="1049.20" style="font-family:&quot;Liberation Serif&quot;,serif;font-size:27.5px" fill="#000">25</text>
<text x="1377.05" y="1049.20" style="font-family:&quot;Liberation Serif&quot;,serif;font-size:27.5px" fill="#000">30</text>
<text x="1431.95" y="1049.20" style="font-family:&quot;Liberation Serif&quot;,serif;font-size:27.5px" fill="#000">35</text>
<text x="1189.30" y="1090.20" style="font-family:&quot;Liberation Serif&quot;,serif;font-size:29.2px" fill="#000">Salinity (ppt)</text>
<text x="1069.20" y="762.20" style="font-family:&quot;Liberation Serif&quot;,serif;font-size:27px" fill="#000">Pro</text>
<text x="1135.87" y="982.00" style="font-family:&quot;Liberation Serif&quot;,serif;font-style:italic;font-size:27.6925px" fill="#000">R</text>
<text x="1156.60" y="968.10" style="font-family:&quot;Liberation Serif&quot;,serif;font-size:28.214999999999996px" fill="#000">2</text>
<text x="1178.44" y="982.00" style="font-family:&quot;Liberation Serif&quot;,serif;font-size:27.6925px" fill="#000">=</text>
<text x="1200.80" y="982.00" style="font-family:&quot;Liberation Serif&quot;,serif;font-size:27.6925px" fill="#000">0.863,</text>
<text x="1282.90" y="982.00" style="font-family:&quot;Liberation Serif&quot;,serif;font-style:italic;font-size:27.6925px" fill="#000">p</text>
<text x="1311.57" y="982.00" style="font-family:&quot;Liberation Serif&quot;,serif;font-size:27.6925px" fill="#000">=</text>
<text x="1334.88" y="982.00" style="font-family:&quot;Liberation Serif&quot;,serif;font-size:27.6925px" fill="#000">0.0508</text>
<circle cx="1016.6" cy="416.3" r="1.1" fill="#000"/>
<text x="0.30" y="22.86" style="font-family:&quot;Liberation Sans&quot;,sans-serif;font-weight:bold;font-size:28px" fill="#000">A</text>
<text x="0.60" y="377.76" style="font-family:&quot;Liberation Sans&quot;,sans-serif;font-weight:bold;font-size:28px" fill="#000">B</text>
<text x="3.30" y="713.34" style="font-family:&quot;Liberation Sans&quot;,sans-serif;font-weight:bold;font-size:28px" fill="#000">C</text>
<text x="0" y="0" transform="translate(57.60 338.20) rotate(-90)" style="font-family:&quot;Liberation Serif&quot;,serif;font-size:24.4px" fill="#000">Concentration of FAAs (mg/g)</text>
<text x="0" y="0" transform="translate(55.50 696.70) rotate(-90)" style="font-family:&quot;Liberation Serif&quot;,serif;font-size:25.0px" fill="#000">Concentration of FAAs (mg/g)</text>
<text x="0" y="0" transform="translate(55.60 1034.40) rotate(-90)" style="font-family:&quot;Liberation Serif&quot;,serif;font-size:24.9px" fill="#000">Concentration of FAAs (mg/g)</text>
</svg>
</body></html>
